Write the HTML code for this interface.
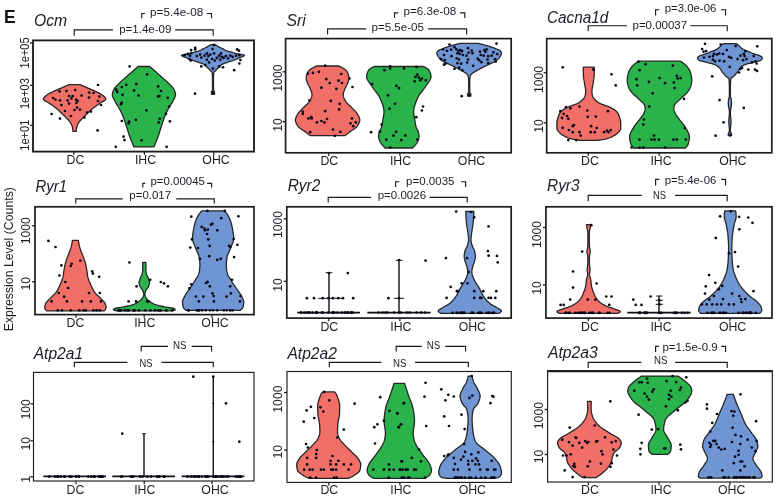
<!DOCTYPE html>
<html><head><meta charset="utf-8"><title>Figure E</title>
<style>
html,body{margin:0;padding:0;background:#fff;}
body{width:777px;height:500px;overflow:hidden;}
svg{display:block;}
svg text{font-family:"Liberation Sans",sans-serif;fill:#1b1b24;}
.t{font-style:italic;font-size:15px;}
.a{font-size:11.5px;}
.p{font-size:11.5px;}
.b{fill:none;stroke:#1a1a1a;stroke-width:1.15;}
.box{fill:none;stroke:#1c1c20;stroke-width:1.5;}
circle{fill:#080818;}
</style></head><body>
<svg width="777" height="500" viewBox="0 0 777 500">
<rect width="777" height="500" fill="#fff"/>
<text x="4" y="22.8" style="font-weight:bold;font-size:17.5px;fill:#111">E</text>
<text class="a" transform="translate(12.6 259.2) rotate(-90)" text-anchor="middle" style="font-size:12.3px">Expression Level (Counts)</text>
<path d="M69.10 84.70 L67.56 85.37 L66.01 86.03 L64.46 86.70 L62.92 87.36 L61.36 88.03 L59.76 88.69 L58.17 89.36 L56.60 90.03 L55.09 90.69 L53.67 91.36 L52.26 92.02 L50.86 92.69 L49.53 93.35 L48.34 94.02 L47.35 94.69 L46.49 95.35 L45.64 96.02 L44.84 96.68 L44.16 97.35 L43.67 98.01 L43.42 98.68 L43.52 99.35 L44.07 100.01 L44.96 100.68 L46.07 101.34 L47.26 102.01 L48.41 102.67 L49.39 103.34 L50.33 104.01 L51.29 104.67 L52.25 105.34 L53.21 106.00 L54.15 106.67 L55.05 107.33 L55.90 108.00 L56.70 108.67 L57.47 109.33 L58.22 110.00 L58.94 110.66 L59.65 111.33 L60.36 111.99 L61.05 112.66 L61.75 113.33 L62.44 113.99 L63.12 114.66 L63.79 115.32 L64.45 115.99 L65.10 116.65 L65.73 117.32 L66.37 117.99 L67.03 118.65 L67.69 119.32 L68.35 119.98 L68.97 120.65 L69.54 121.31 L70.03 121.98 L70.44 122.65 L70.82 123.31 L71.18 123.98 L71.52 124.64 L71.81 125.31 L72.07 125.97 L72.27 126.64 L72.42 127.31 L72.54 127.97 L72.66 128.64 L72.75 129.30 L72.83 129.97 L72.88 130.63 L72.90 131.30 L76.30 131.30 L76.32 130.63 L76.37 129.97 L76.45 129.30 L76.54 128.64 L76.66 127.97 L76.78 127.31 L76.93 126.64 L77.13 125.97 L77.39 125.31 L77.68 124.64 L78.02 123.98 L78.38 123.31 L78.76 122.65 L79.17 121.98 L79.66 121.31 L80.23 120.65 L80.85 119.98 L81.51 119.32 L82.17 118.65 L82.83 117.99 L83.47 117.32 L84.10 116.65 L84.75 115.99 L85.41 115.32 L86.08 114.66 L86.76 113.99 L87.45 113.33 L88.15 112.66 L88.84 111.99 L89.55 111.33 L90.26 110.66 L90.98 110.00 L91.73 109.33 L92.50 108.67 L93.30 108.00 L94.15 107.33 L95.05 106.67 L95.99 106.00 L96.95 105.34 L97.91 104.67 L98.87 104.01 L99.81 103.34 L100.79 102.67 L101.94 102.01 L103.13 101.34 L104.24 100.68 L105.13 100.01 L105.68 99.35 L105.78 98.68 L105.53 98.01 L105.04 97.35 L104.36 96.68 L103.56 96.02 L102.71 95.35 L101.85 94.69 L100.86 94.02 L99.67 93.35 L98.34 92.69 L96.94 92.02 L95.53 91.36 L94.11 90.69 L92.60 90.03 L91.03 89.36 L89.44 88.69 L87.84 88.03 L86.28 87.36 L84.74 86.70 L83.19 86.03 L81.64 85.37 L80.10 84.70Z" fill="#F26F68" stroke="#262626" stroke-width="1.3" stroke-linejoin="round"/>
<path d="M138.10 66.50 L137.33 67.16 L136.57 67.83 L135.80 68.49 L135.04 69.16 L134.28 69.82 L133.53 70.49 L132.77 71.15 L132.01 71.82 L131.26 72.48 L130.51 73.14 L129.76 73.81 L129.02 74.47 L128.27 75.14 L127.51 75.80 L126.75 76.47 L125.99 77.13 L125.23 77.80 L124.47 78.46 L123.71 79.12 L122.96 79.79 L122.22 80.45 L121.49 81.12 L120.78 81.78 L120.07 82.45 L119.39 83.11 L118.72 83.78 L118.06 84.44 L117.37 85.10 L116.68 85.77 L116.02 86.43 L115.40 87.10 L114.85 87.76 L114.40 88.43 L114.06 89.09 L113.75 89.76 L113.45 90.42 L113.17 91.09 L112.91 91.75 L112.69 92.41 L112.51 93.08 L112.38 93.74 L112.31 94.41 L112.31 95.07 L112.40 95.74 L112.57 96.40 L112.81 97.07 L113.11 97.73 L113.44 98.39 L113.79 99.06 L114.15 99.72 L114.50 100.39 L114.82 101.05 L115.17 101.72 L115.54 102.38 L115.94 103.05 L116.35 103.71 L116.77 104.37 L117.20 105.04 L117.62 105.70 L118.04 106.37 L118.45 107.03 L118.83 107.70 L119.20 108.36 L119.56 109.03 L119.92 109.69 L120.27 110.35 L120.62 111.02 L120.96 111.68 L121.30 112.35 L121.62 113.01 L121.93 113.68 L122.23 114.34 L122.52 115.01 L122.79 115.67 L123.05 116.33 L123.31 117.00 L123.56 117.66 L123.80 118.33 L124.03 118.99 L124.26 119.66 L124.48 120.32 L124.70 120.99 L124.92 121.65 L125.13 122.31 L125.34 122.98 L125.56 123.64 L125.77 124.31 L125.98 124.97 L126.19 125.64 L126.41 126.30 L126.62 126.97 L126.84 127.63 L127.06 128.30 L127.27 128.96 L127.48 129.62 L127.68 130.29 L127.89 130.95 L128.10 131.62 L128.30 132.28 L128.51 132.95 L128.72 133.61 L128.94 134.28 L129.16 134.94 L129.38 135.60 L129.61 136.27 L129.85 136.93 L130.09 137.60 L130.35 138.26 L130.61 138.93 L130.88 139.59 L131.15 140.26 L131.42 140.92 L131.70 141.58 L131.97 142.25 L132.25 142.91 L132.53 143.58 L132.80 144.24 L133.07 144.91 L133.35 145.57 L133.62 146.24 L133.90 146.90 L153.90 146.90 L154.18 146.24 L154.45 145.57 L154.73 144.91 L155.00 144.24 L155.27 143.58 L155.55 142.91 L155.83 142.25 L156.10 141.58 L156.38 140.92 L156.65 140.26 L156.92 139.59 L157.19 138.93 L157.45 138.26 L157.71 137.60 L157.95 136.93 L158.19 136.27 L158.42 135.60 L158.64 134.94 L158.86 134.28 L159.08 133.61 L159.29 132.95 L159.50 132.28 L159.70 131.62 L159.91 130.95 L160.12 130.29 L160.32 129.62 L160.53 128.96 L160.74 128.30 L160.96 127.63 L161.18 126.97 L161.39 126.30 L161.61 125.64 L161.82 124.97 L162.03 124.31 L162.24 123.64 L162.46 122.98 L162.67 122.31 L162.88 121.65 L163.10 120.99 L163.32 120.32 L163.54 119.66 L163.77 118.99 L164.00 118.33 L164.24 117.66 L164.49 117.00 L164.75 116.33 L165.01 115.67 L165.28 115.01 L165.57 114.34 L165.87 113.68 L166.18 113.01 L166.50 112.35 L166.84 111.68 L167.18 111.02 L167.53 110.35 L167.88 109.69 L168.24 109.03 L168.60 108.36 L168.97 107.70 L169.35 107.03 L169.76 106.37 L170.18 105.70 L170.60 105.04 L171.03 104.37 L171.45 103.71 L171.86 103.05 L172.26 102.38 L172.63 101.72 L172.98 101.05 L173.30 100.39 L173.65 99.72 L174.01 99.06 L174.36 98.39 L174.69 97.73 L174.99 97.07 L175.23 96.40 L175.40 95.74 L175.49 95.07 L175.49 94.41 L175.42 93.74 L175.29 93.08 L175.11 92.41 L174.89 91.75 L174.63 91.09 L174.35 90.42 L174.05 89.76 L173.74 89.09 L173.40 88.43 L172.95 87.76 L172.40 87.10 L171.78 86.43 L171.12 85.77 L170.43 85.10 L169.74 84.44 L169.08 83.78 L168.41 83.11 L167.73 82.45 L167.02 81.78 L166.31 81.12 L165.58 80.45 L164.84 79.79 L164.09 79.12 L163.33 78.46 L162.57 77.80 L161.81 77.13 L161.05 76.47 L160.29 75.80 L159.53 75.14 L158.78 74.47 L158.04 73.81 L157.29 73.14 L156.54 72.48 L155.79 71.82 L155.03 71.15 L154.27 70.49 L153.52 69.82 L152.76 69.16 L152.00 68.49 L151.23 67.83 L150.47 67.16 L149.70 66.50Z" fill="#2AB34B" stroke="#262626" stroke-width="1.3" stroke-linejoin="round"/>
<path d="M211.00 44.70 L209.80 45.36 L208.62 46.02 L207.46 46.68 L206.30 47.35 L204.89 48.01 L203.38 48.67 L202.14 49.33 L201.05 49.99 L199.72 50.65 L197.65 51.31 L195.19 51.97 L193.01 52.64 L190.61 53.30 L187.27 53.96 L183.67 54.62 L181.41 55.28 L182.08 55.94 L183.43 56.60 L185.20 57.27 L186.76 57.93 L188.31 58.59 L189.91 59.25 L191.52 59.91 L193.21 60.57 L195.12 61.23 L197.35 61.89 L199.32 62.56 L201.21 63.22 L202.92 63.88 L204.29 64.54 L205.20 65.20 L205.84 65.86 L206.43 66.52 L207.09 67.19 L207.75 67.85 L208.41 68.51 L209.05 69.17 L209.67 69.83 L210.30 70.49 L211.02 71.15 L211.79 71.81 L212.20 72.48 L212.26 73.14 L212.31 73.80 L212.35 74.46 L212.39 75.12 L212.42 75.78 L212.44 76.44 L212.46 77.11 L212.48 77.77 L212.49 78.43 L212.50 79.09 L212.50 79.75 L212.50 80.41 L212.50 81.07 L212.50 81.73 L212.50 82.40 L212.50 83.06 L212.50 83.72 L212.50 84.38 L212.50 85.04 L212.50 85.70 L212.50 86.36 L212.50 87.03 L212.50 87.69 L212.50 88.35 L212.50 89.01 L212.50 89.67 L212.50 90.33 L212.50 90.99 L211.50 91.65 L211.50 92.32 L211.50 92.98 L211.50 93.64 L211.50 94.30 L214.50 94.30 L214.50 93.64 L214.50 92.98 L214.50 92.32 L214.50 91.65 L213.50 90.99 L213.50 90.33 L213.50 89.67 L213.50 89.01 L213.50 88.35 L213.50 87.69 L213.50 87.03 L213.50 86.36 L213.50 85.70 L213.50 85.04 L213.50 84.38 L213.50 83.72 L213.50 83.06 L213.50 82.40 L213.50 81.73 L213.50 81.07 L213.50 80.41 L213.50 79.75 L213.50 79.09 L213.51 78.43 L213.52 77.77 L213.54 77.11 L213.56 76.44 L213.58 75.78 L213.61 75.12 L213.65 74.46 L213.69 73.80 L213.74 73.14 L213.80 72.48 L214.21 71.81 L214.98 71.15 L215.70 70.49 L216.33 69.83 L216.95 69.17 L217.59 68.51 L218.25 67.85 L218.91 67.19 L219.57 66.52 L220.16 65.86 L220.80 65.20 L221.71 64.54 L223.08 63.88 L224.79 63.22 L226.68 62.56 L228.65 61.89 L230.88 61.23 L232.79 60.57 L234.48 59.91 L236.09 59.25 L237.69 58.59 L239.24 57.93 L240.80 57.27 L242.57 56.60 L243.92 55.94 L244.59 55.28 L242.33 54.62 L238.73 53.96 L235.39 53.30 L232.99 52.64 L230.81 51.97 L228.35 51.31 L226.28 50.65 L224.95 49.99 L223.86 49.33 L222.62 48.67 L221.11 48.01 L219.70 47.35 L218.54 46.68 L217.38 46.02 L216.20 45.36 L215.00 44.70Z" fill="#7095D3" stroke="#262626" stroke-width="1.3" stroke-linejoin="round"/>
<path d="M316.30 66.00 L315.02 66.66 L313.78 67.33 L312.61 67.99 L311.52 68.65 L310.53 69.31 L309.65 69.98 L308.92 70.64 L308.33 71.30 L307.92 71.97 L307.61 72.63 L307.32 73.29 L307.06 73.95 L306.82 74.62 L306.61 75.28 L306.44 75.94 L306.32 76.61 L306.23 77.27 L306.20 77.93 L306.23 78.59 L306.32 79.26 L306.46 79.92 L306.65 80.58 L306.87 81.25 L307.11 81.91 L307.36 82.57 L307.62 83.23 L307.86 83.90 L308.12 84.56 L308.42 85.22 L308.76 85.89 L309.12 86.55 L309.49 87.21 L309.85 87.87 L310.19 88.54 L310.50 89.20 L310.75 89.86 L310.98 90.53 L311.20 91.19 L311.43 91.85 L311.63 92.51 L311.80 93.18 L311.93 93.84 L311.99 94.50 L311.99 95.17 L311.90 95.83 L311.75 96.49 L311.54 97.15 L311.28 97.82 L310.99 98.48 L310.66 99.14 L310.32 99.81 L309.97 100.47 L309.62 101.13 L309.18 101.79 L308.65 102.46 L308.07 103.12 L307.43 103.78 L306.75 104.45 L306.05 105.11 L305.34 105.77 L304.64 106.43 L303.96 107.10 L303.32 107.76 L302.71 108.42 L302.07 109.09 L301.42 109.75 L300.76 110.41 L300.11 111.07 L299.49 111.74 L298.92 112.40 L298.40 113.06 L297.96 113.73 L297.58 114.39 L297.21 115.05 L296.84 115.71 L296.49 116.38 L296.17 117.04 L295.89 117.70 L295.66 118.37 L295.50 119.03 L295.41 119.69 L295.41 120.35 L295.50 121.02 L295.65 121.68 L295.87 122.34 L296.14 123.01 L296.46 123.67 L296.81 124.33 L297.19 124.99 L297.59 125.66 L298.02 126.32 L298.60 126.98 L299.34 127.65 L300.20 128.31 L301.14 128.97 L302.13 129.63 L303.15 130.30 L304.14 130.96 L305.09 131.62 L305.97 132.29 L306.84 132.95 L307.70 133.61 L308.57 134.27 L309.43 134.94 L310.30 135.60 L344.90 135.60 L345.77 134.94 L346.63 134.27 L347.50 133.61 L348.36 132.95 L349.23 132.29 L350.11 131.62 L351.06 130.96 L352.05 130.30 L353.07 129.63 L354.06 128.97 L355.00 128.31 L355.86 127.65 L356.60 126.98 L357.18 126.32 L357.61 125.66 L358.01 124.99 L358.39 124.33 L358.74 123.67 L359.06 123.01 L359.33 122.34 L359.55 121.68 L359.70 121.02 L359.79 120.35 L359.79 119.69 L359.70 119.03 L359.54 118.37 L359.31 117.70 L359.03 117.04 L358.71 116.38 L358.36 115.71 L357.99 115.05 L357.62 114.39 L357.24 113.73 L356.80 113.06 L356.28 112.40 L355.71 111.74 L355.09 111.07 L354.44 110.41 L353.78 109.75 L353.13 109.09 L352.49 108.42 L351.88 107.76 L351.24 107.10 L350.56 106.43 L349.86 105.77 L349.15 105.11 L348.45 104.45 L347.77 103.78 L347.13 103.12 L346.55 102.46 L346.02 101.79 L345.58 101.13 L345.23 100.47 L344.88 99.81 L344.54 99.14 L344.21 98.48 L343.92 97.82 L343.66 97.15 L343.45 96.49 L343.30 95.83 L343.21 95.17 L343.21 94.50 L343.27 93.84 L343.40 93.18 L343.57 92.51 L343.77 91.85 L344.00 91.19 L344.22 90.53 L344.45 89.86 L344.70 89.20 L345.01 88.54 L345.35 87.87 L345.71 87.21 L346.08 86.55 L346.44 85.89 L346.78 85.22 L347.08 84.56 L347.34 83.90 L347.58 83.23 L347.84 82.57 L348.09 81.91 L348.33 81.25 L348.55 80.58 L348.74 79.92 L348.88 79.26 L348.97 78.59 L349.00 77.93 L348.97 77.27 L348.88 76.61 L348.76 75.94 L348.59 75.28 L348.38 74.62 L348.14 73.95 L347.88 73.29 L347.59 72.63 L347.28 71.97 L346.87 71.30 L346.28 70.64 L345.55 69.98 L344.67 69.31 L343.68 68.65 L342.59 67.99 L341.42 67.33 L340.18 66.66 L338.90 66.00Z" fill="#F26F68" stroke="#262626" stroke-width="1.3" stroke-linejoin="round"/>
<path d="M374.40 66.50 L373.05 67.16 L371.74 67.83 L370.56 68.49 L369.59 69.15 L368.92 69.81 L368.53 70.48 L368.18 71.14 L367.86 71.80 L367.56 72.46 L367.30 73.13 L367.08 73.79 L366.90 74.45 L366.76 75.11 L366.66 75.78 L366.61 76.44 L366.61 77.10 L366.70 77.76 L366.87 78.43 L367.12 79.09 L367.43 79.75 L367.80 80.41 L368.21 81.08 L368.66 81.74 L369.13 82.40 L369.62 83.07 L370.12 83.73 L370.62 84.39 L371.10 85.05 L371.56 85.72 L371.99 86.38 L372.41 87.04 L372.86 87.70 L373.33 88.37 L373.81 89.03 L374.32 89.69 L374.83 90.35 L375.34 91.02 L375.86 91.68 L376.38 92.34 L376.88 93.00 L377.38 93.67 L377.86 94.33 L378.32 94.99 L378.75 95.65 L379.16 96.32 L379.53 96.98 L379.87 97.64 L380.16 98.30 L380.43 98.97 L380.69 99.63 L380.96 100.29 L381.23 100.96 L381.49 101.62 L381.74 102.28 L382.00 102.94 L382.24 103.61 L382.47 104.27 L382.69 104.93 L382.90 105.59 L383.10 106.26 L383.28 106.92 L383.45 107.58 L383.59 108.24 L383.72 108.91 L383.82 109.57 L383.90 110.23 L383.96 110.89 L383.99 111.56 L384.00 112.22 L383.97 112.88 L383.92 113.54 L383.85 114.21 L383.76 114.87 L383.65 115.53 L383.53 116.20 L383.40 116.86 L383.27 117.52 L383.14 118.18 L383.01 118.85 L382.88 119.51 L382.77 120.17 L382.67 120.83 L382.57 121.50 L382.47 122.16 L382.37 122.82 L382.26 123.48 L382.15 124.15 L382.04 124.81 L381.91 125.47 L381.76 126.13 L381.61 126.80 L381.42 127.46 L381.14 128.12 L380.79 128.78 L380.40 129.45 L380.00 130.11 L379.65 130.77 L379.36 131.43 L379.18 132.10 L379.05 132.76 L378.93 133.42 L378.83 134.09 L378.74 134.75 L378.67 135.41 L378.62 136.07 L378.60 136.74 L378.63 137.40 L378.74 138.06 L378.90 138.72 L379.11 139.39 L379.36 140.05 L379.63 140.71 L379.91 141.37 L380.20 142.04 L380.58 142.70 L381.03 143.36 L381.53 144.02 L382.05 144.69 L382.59 145.35 L383.17 146.01 L383.81 146.67 L384.49 147.34 L385.20 148.00 L412.40 148.00 L413.11 147.34 L413.79 146.67 L414.43 146.01 L415.01 145.35 L415.55 144.69 L416.07 144.02 L416.57 143.36 L417.02 142.70 L417.40 142.04 L417.69 141.37 L417.97 140.71 L418.24 140.05 L418.49 139.39 L418.70 138.72 L418.86 138.06 L418.97 137.40 L419.00 136.74 L418.98 136.07 L418.93 135.41 L418.86 134.75 L418.77 134.09 L418.67 133.42 L418.55 132.76 L418.42 132.10 L418.24 131.43 L417.95 130.77 L417.60 130.11 L417.20 129.45 L416.81 128.78 L416.46 128.12 L416.18 127.46 L415.99 126.80 L415.84 126.13 L415.69 125.47 L415.56 124.81 L415.45 124.15 L415.34 123.48 L415.23 122.82 L415.13 122.16 L415.03 121.50 L414.93 120.83 L414.83 120.17 L414.72 119.51 L414.59 118.85 L414.46 118.18 L414.33 117.52 L414.20 116.86 L414.07 116.20 L413.95 115.53 L413.84 114.87 L413.75 114.21 L413.68 113.54 L413.63 112.88 L413.60 112.22 L413.61 111.56 L413.64 110.89 L413.70 110.23 L413.78 109.57 L413.88 108.91 L414.01 108.24 L414.15 107.58 L414.32 106.92 L414.50 106.26 L414.70 105.59 L414.91 104.93 L415.13 104.27 L415.36 103.61 L415.60 102.94 L415.86 102.28 L416.11 101.62 L416.37 100.96 L416.64 100.29 L416.91 99.63 L417.17 98.97 L417.44 98.30 L417.73 97.64 L418.07 96.98 L418.44 96.32 L418.85 95.65 L419.28 94.99 L419.74 94.33 L420.22 93.67 L420.72 93.00 L421.22 92.34 L421.74 91.68 L422.26 91.02 L422.77 90.35 L423.28 89.69 L423.79 89.03 L424.27 88.37 L424.74 87.70 L425.19 87.04 L425.61 86.38 L426.04 85.72 L426.50 85.05 L426.98 84.39 L427.48 83.73 L427.98 83.07 L428.47 82.40 L428.94 81.74 L429.39 81.08 L429.80 80.41 L430.17 79.75 L430.48 79.09 L430.73 78.43 L430.90 77.76 L430.99 77.10 L430.99 76.44 L430.94 75.78 L430.84 75.11 L430.70 74.45 L430.52 73.79 L430.30 73.13 L430.04 72.46 L429.74 71.80 L429.42 71.14 L429.07 70.48 L428.68 69.81 L428.01 69.15 L427.04 68.49 L425.86 67.83 L424.55 67.16 L423.20 66.50Z" fill="#2AB34B" stroke="#262626" stroke-width="1.3" stroke-linejoin="round"/>
<path d="M460.60 43.30 L457.77 43.96 L455.11 44.62 L452.64 45.28 L450.38 45.95 L448.31 46.61 L446.40 47.27 L444.63 47.93 L442.97 48.59 L441.32 49.25 L439.71 49.91 L438.48 50.57 L437.76 51.23 L437.20 51.90 L436.91 52.56 L436.93 53.22 L437.05 53.88 L437.21 54.54 L437.45 55.20 L437.81 55.86 L438.22 56.52 L438.68 57.19 L439.21 57.85 L439.81 58.51 L440.48 59.17 L441.22 59.83 L442.03 60.49 L442.92 61.15 L444.02 61.81 L445.34 62.48 L446.79 63.14 L448.28 63.80 L449.71 64.46 L451.04 65.12 L452.37 65.78 L453.69 66.44 L455.00 67.11 L456.29 67.77 L457.56 68.43 L458.83 69.09 L460.12 69.75 L461.37 70.41 L462.55 71.07 L463.60 71.73 L464.59 72.40 L465.58 73.06 L466.50 73.72 L467.24 74.38 L467.73 75.04 L467.97 75.70 L468.18 76.36 L468.35 77.02 L468.48 77.69 L468.56 78.35 L468.60 79.01 L468.61 79.67 L468.62 80.33 L468.63 80.99 L468.64 81.65 L468.65 82.31 L468.65 82.97 L468.66 83.64 L468.67 84.30 L468.67 84.96 L468.68 85.62 L468.68 86.28 L468.69 86.94 L468.69 87.60 L468.69 88.27 L468.69 88.93 L468.70 89.59 L468.70 90.25 L468.70 90.91 L468.70 91.57 L468.70 92.23 L468.70 92.89 L467.60 93.56 L467.60 94.22 L467.60 94.88 L467.60 95.54 L467.60 96.20 L470.80 96.20 L470.80 95.54 L470.80 94.88 L470.80 94.22 L470.80 93.56 L469.70 92.89 L469.70 92.23 L469.70 91.57 L469.70 90.91 L469.70 90.25 L469.70 89.59 L469.71 88.93 L469.71 88.27 L469.71 87.60 L469.71 86.94 L469.72 86.28 L469.72 85.62 L469.73 84.96 L469.73 84.30 L469.74 83.64 L469.75 82.97 L469.75 82.31 L469.76 81.65 L469.77 80.99 L469.78 80.33 L469.79 79.67 L469.80 79.01 L469.84 78.35 L469.92 77.69 L470.05 77.02 L470.22 76.36 L470.43 75.70 L470.67 75.04 L471.16 74.38 L471.90 73.72 L472.82 73.06 L473.81 72.40 L474.80 71.73 L475.85 71.07 L477.03 70.41 L478.28 69.75 L479.57 69.09 L480.84 68.43 L482.11 67.77 L483.40 67.11 L484.71 66.44 L486.03 65.78 L487.36 65.12 L488.69 64.46 L490.12 63.80 L491.61 63.14 L493.06 62.48 L494.38 61.81 L495.48 61.15 L496.37 60.49 L497.18 59.83 L497.92 59.17 L498.59 58.51 L499.19 57.85 L499.72 57.19 L500.18 56.52 L500.59 55.86 L500.95 55.20 L501.19 54.54 L501.35 53.88 L501.47 53.22 L501.49 52.56 L501.20 51.90 L500.64 51.23 L499.92 50.57 L498.69 49.91 L497.08 49.25 L495.43 48.59 L493.77 47.93 L492.00 47.27 L490.09 46.61 L488.02 45.95 L485.76 45.28 L483.29 44.62 L480.63 43.96 L477.80 43.30Z" fill="#7095D3" stroke="#262626" stroke-width="1.3" stroke-linejoin="round"/>
<path d="M583.30 67.20 L583.30 67.87 L583.30 68.53 L583.31 69.20 L583.31 69.86 L583.32 70.53 L583.33 71.19 L583.34 71.86 L583.35 72.52 L583.36 73.19 L583.38 73.85 L583.39 74.52 L583.41 75.19 L583.44 75.85 L583.48 76.52 L583.55 77.18 L583.63 77.85 L583.72 78.51 L583.81 79.18 L583.92 79.84 L584.03 80.51 L584.14 81.17 L584.26 81.84 L584.37 82.51 L584.48 83.17 L584.58 83.84 L584.68 84.50 L584.79 85.17 L584.92 85.83 L585.06 86.50 L585.19 87.16 L585.32 87.83 L585.44 88.49 L585.54 89.16 L585.63 89.83 L585.68 90.49 L585.70 91.16 L585.68 91.82 L585.64 92.49 L585.56 93.15 L585.46 93.82 L585.34 94.48 L585.20 95.15 L585.04 95.81 L584.85 96.48 L584.53 97.15 L584.12 97.81 L583.62 98.48 L583.07 99.14 L582.47 99.81 L581.84 100.47 L581.07 101.14 L580.19 101.80 L579.20 102.47 L578.11 103.13 L576.81 103.80 L575.17 104.47 L573.33 105.13 L571.40 105.80 L569.52 106.46 L567.80 107.13 L566.37 107.79 L565.25 108.46 L564.19 109.12 L563.21 109.79 L562.30 110.45 L561.50 111.12 L560.80 111.79 L560.24 112.45 L559.81 113.12 L559.44 113.78 L559.12 114.45 L558.84 115.11 L558.58 115.78 L558.36 116.44 L558.15 117.11 L557.95 117.77 L557.74 118.44 L557.53 119.11 L557.34 119.77 L557.16 120.44 L557.02 121.10 L556.93 121.77 L556.90 122.43 L556.90 123.10 L556.90 123.76 L556.90 124.43 L556.90 125.09 L556.90 125.76 L556.90 126.43 L556.90 127.09 L556.90 127.76 L556.90 128.42 L556.99 129.09 L557.24 129.75 L557.62 130.42 L558.10 131.08 L558.66 131.75 L559.26 132.41 L559.89 133.08 L560.61 133.75 L561.56 134.41 L562.66 135.08 L563.84 135.74 L565.02 136.41 L566.25 137.07 L567.72 137.74 L569.62 138.40 L572.14 139.07 L575.33 139.73 L579.80 140.40 L597.80 140.40 L602.27 139.73 L605.46 139.07 L607.98 138.40 L609.88 137.74 L611.35 137.07 L612.58 136.41 L613.76 135.74 L614.94 135.08 L616.04 134.41 L616.99 133.75 L617.71 133.08 L618.34 132.41 L618.94 131.75 L619.50 131.08 L619.98 130.42 L620.36 129.75 L620.61 129.09 L620.70 128.42 L620.70 127.76 L620.70 127.09 L620.70 126.43 L620.70 125.76 L620.70 125.09 L620.70 124.43 L620.70 123.76 L620.70 123.10 L620.70 122.43 L620.67 121.77 L620.58 121.10 L620.44 120.44 L620.26 119.77 L620.07 119.11 L619.86 118.44 L619.65 117.77 L619.45 117.11 L619.24 116.44 L619.02 115.78 L618.76 115.11 L618.48 114.45 L618.16 113.78 L617.79 113.12 L617.36 112.45 L616.80 111.79 L616.10 111.12 L615.30 110.45 L614.39 109.79 L613.41 109.12 L612.35 108.46 L611.23 107.79 L609.80 107.13 L608.08 106.46 L606.20 105.80 L604.27 105.13 L602.43 104.47 L600.79 103.80 L599.49 103.13 L598.40 102.47 L597.41 101.80 L596.53 101.14 L595.76 100.47 L595.13 99.81 L594.53 99.14 L593.98 98.48 L593.48 97.81 L593.07 97.15 L592.75 96.48 L592.56 95.81 L592.40 95.15 L592.26 94.48 L592.14 93.82 L592.04 93.15 L591.96 92.49 L591.92 91.82 L591.90 91.16 L591.92 90.49 L591.97 89.83 L592.06 89.16 L592.16 88.49 L592.28 87.83 L592.41 87.16 L592.54 86.50 L592.68 85.83 L592.81 85.17 L592.92 84.50 L593.02 83.84 L593.12 83.17 L593.23 82.51 L593.34 81.84 L593.46 81.17 L593.57 80.51 L593.68 79.84 L593.79 79.18 L593.88 78.51 L593.97 77.85 L594.05 77.18 L594.12 76.52 L594.16 75.85 L594.19 75.19 L594.21 74.52 L594.22 73.85 L594.24 73.19 L594.25 72.52 L594.26 71.86 L594.27 71.19 L594.28 70.53 L594.29 69.86 L594.29 69.20 L594.30 68.53 L594.30 67.87 L594.30 67.20Z" fill="#F26F68" stroke="#262626" stroke-width="1.3" stroke-linejoin="round"/>
<path d="M638.60 61.20 L637.59 61.86 L636.61 62.53 L635.68 63.19 L634.81 63.85 L634.01 64.51 L633.28 65.18 L632.64 65.84 L632.08 66.50 L631.53 67.16 L631.01 67.83 L630.53 68.49 L630.07 69.15 L629.67 69.81 L629.31 70.48 L629.00 71.14 L628.76 71.80 L628.57 72.46 L628.38 73.13 L628.21 73.79 L628.04 74.45 L627.88 75.11 L627.73 75.78 L627.60 76.44 L627.49 77.10 L627.39 77.76 L627.31 78.43 L627.25 79.09 L627.21 79.75 L627.20 80.42 L627.22 81.08 L627.28 81.74 L627.37 82.40 L627.49 83.07 L627.63 83.73 L627.78 84.39 L627.95 85.05 L628.12 85.72 L628.31 86.38 L628.54 87.04 L628.81 87.70 L629.13 88.37 L629.48 89.03 L629.85 89.69 L630.26 90.35 L630.68 91.02 L631.14 91.68 L631.67 92.34 L632.27 93.00 L632.92 93.67 L633.61 94.33 L634.33 94.99 L635.07 95.65 L635.81 96.32 L636.54 96.98 L637.24 97.64 L637.91 98.31 L638.57 98.97 L639.29 99.63 L640.05 100.29 L640.82 100.96 L641.58 101.62 L642.31 102.28 L642.99 102.94 L643.58 103.61 L644.08 104.27 L644.46 104.93 L644.70 105.59 L644.85 106.26 L644.98 106.92 L645.09 107.58 L645.17 108.24 L645.20 108.91 L645.16 109.57 L645.01 110.23 L644.80 110.89 L644.53 111.56 L644.25 112.22 L643.97 112.88 L643.66 113.55 L643.30 114.21 L642.91 114.87 L642.47 115.53 L642.01 116.20 L641.54 116.86 L641.04 117.52 L640.54 118.18 L640.05 118.85 L639.55 119.51 L639.08 120.17 L638.58 120.83 L638.05 121.50 L637.51 122.16 L636.96 122.82 L636.41 123.48 L635.86 124.15 L635.33 124.81 L634.83 125.47 L634.36 126.13 L633.93 126.80 L633.55 127.46 L633.18 128.12 L632.79 128.78 L632.40 129.45 L632.01 130.11 L631.64 130.77 L631.28 131.44 L630.93 132.10 L630.62 132.76 L630.34 133.42 L630.09 134.09 L629.89 134.75 L629.74 135.41 L629.64 136.07 L629.60 136.74 L629.61 137.40 L629.65 138.06 L629.70 138.72 L629.78 139.39 L629.88 140.05 L630.00 140.71 L630.13 141.37 L630.28 142.04 L630.44 142.70 L630.62 143.36 L630.81 144.02 L631.07 144.69 L631.46 145.35 L631.94 146.01 L632.49 146.67 L633.09 147.34 L633.70 148.00 L685.30 148.00 L685.91 147.34 L686.51 146.67 L687.06 146.01 L687.54 145.35 L687.93 144.69 L688.19 144.02 L688.38 143.36 L688.56 142.70 L688.72 142.04 L688.87 141.37 L689.00 140.71 L689.12 140.05 L689.22 139.39 L689.30 138.72 L689.35 138.06 L689.39 137.40 L689.40 136.74 L689.36 136.07 L689.26 135.41 L689.11 134.75 L688.91 134.09 L688.66 133.42 L688.38 132.76 L688.07 132.10 L687.72 131.44 L687.36 130.77 L686.99 130.11 L686.60 129.45 L686.21 128.78 L685.82 128.12 L685.45 127.46 L685.07 126.80 L684.64 126.13 L684.17 125.47 L683.67 124.81 L683.14 124.15 L682.59 123.48 L682.04 122.82 L681.49 122.16 L680.95 121.50 L680.42 120.83 L679.92 120.17 L679.45 119.51 L678.95 118.85 L678.46 118.18 L677.96 117.52 L677.46 116.86 L676.99 116.20 L676.53 115.53 L676.09 114.87 L675.70 114.21 L675.34 113.55 L675.03 112.88 L674.75 112.22 L674.47 111.56 L674.20 110.89 L673.99 110.23 L673.84 109.57 L673.80 108.91 L673.83 108.24 L673.91 107.58 L674.02 106.92 L674.15 106.26 L674.30 105.59 L674.54 104.93 L674.92 104.27 L675.42 103.61 L676.01 102.94 L676.69 102.28 L677.42 101.62 L678.18 100.96 L678.95 100.29 L679.71 99.63 L680.43 98.97 L681.09 98.31 L681.76 97.64 L682.46 96.98 L683.19 96.32 L683.93 95.65 L684.67 94.99 L685.39 94.33 L686.08 93.67 L686.73 93.00 L687.33 92.34 L687.86 91.68 L688.32 91.02 L688.74 90.35 L689.15 89.69 L689.52 89.03 L689.87 88.37 L690.19 87.70 L690.46 87.04 L690.69 86.38 L690.88 85.72 L691.05 85.05 L691.22 84.39 L691.37 83.73 L691.51 83.07 L691.63 82.40 L691.72 81.74 L691.78 81.08 L691.80 80.42 L691.79 79.75 L691.75 79.09 L691.69 78.43 L691.61 77.76 L691.51 77.10 L691.40 76.44 L691.27 75.78 L691.12 75.11 L690.96 74.45 L690.79 73.79 L690.62 73.13 L690.43 72.46 L690.24 71.80 L690.00 71.14 L689.69 70.48 L689.33 69.81 L688.93 69.15 L688.47 68.49 L687.99 67.83 L687.47 67.16 L686.92 66.50 L686.36 65.84 L685.72 65.18 L684.99 64.51 L684.19 63.85 L683.32 63.19 L682.39 62.53 L681.41 61.86 L680.40 61.20Z" fill="#2AB34B" stroke="#262626" stroke-width="1.3" stroke-linejoin="round"/>
<path d="M723.50 43.70 L722.42 44.37 L721.50 45.03 L720.80 45.70 L720.22 46.36 L719.56 47.03 L718.79 47.70 L717.95 48.36 L717.01 49.03 L715.94 49.69 L714.64 50.36 L712.85 51.03 L711.08 51.69 L709.63 52.36 L708.18 53.02 L706.37 53.69 L704.06 54.36 L701.76 55.02 L700.00 55.69 L698.89 56.35 L697.97 57.02 L697.51 57.68 L697.56 58.35 L697.78 59.02 L698.23 59.68 L699.29 60.35 L701.34 61.01 L704.12 61.68 L706.73 62.35 L709.31 63.01 L711.87 63.68 L714.07 64.34 L715.62 65.01 L716.81 65.68 L717.82 66.34 L718.68 67.01 L719.40 67.67 L719.99 68.34 L720.46 69.01 L720.87 69.67 L721.24 70.34 L721.61 71.00 L722.03 71.67 L722.53 72.34 L723.06 73.00 L723.63 73.67 L724.22 74.33 L724.84 75.00 L725.47 75.67 L726.13 76.33 L726.97 77.00 L727.93 77.66 L728.71 78.33 L729.01 78.99 L729.06 79.66 L729.11 80.33 L729.16 80.99 L729.20 81.66 L729.23 82.32 L729.26 82.99 L729.29 83.66 L729.32 84.32 L729.34 84.99 L729.35 85.65 L729.37 86.32 L729.38 86.99 L729.39 87.65 L729.39 88.32 L729.40 88.98 L729.40 89.65 L729.40 90.32 L729.40 90.98 L729.40 91.65 L729.40 92.31 L729.40 92.98 L729.40 93.65 L729.40 94.31 L729.40 94.98 L729.40 95.64 L729.38 96.31 L729.23 96.98 L728.99 97.64 L728.76 98.31 L728.60 98.97 L728.53 99.64 L728.45 100.31 L728.39 100.97 L728.34 101.64 L728.31 102.30 L728.30 102.97 L728.31 103.63 L728.34 104.30 L728.39 104.97 L728.45 105.63 L728.52 106.30 L728.60 106.96 L728.72 107.63 L728.91 108.30 L729.11 108.96 L729.26 109.63 L729.31 110.29 L729.34 110.96 L729.36 111.63 L729.38 112.29 L729.39 112.96 L729.40 113.62 L729.40 114.29 L729.35 114.96 L729.28 115.62 L729.19 116.29 L729.11 116.95 L729.03 117.62 L728.98 118.29 L728.93 118.95 L728.89 119.62 L728.85 120.28 L728.82 120.95 L728.80 121.62 L728.80 122.28 L728.83 122.95 L728.87 123.61 L728.93 124.28 L729.00 124.94 L729.06 125.61 L729.13 126.28 L729.21 126.94 L729.30 127.61 L729.37 128.27 L729.40 128.94 L729.40 129.61 L729.38 130.27 L729.36 130.94 L729.33 131.60 L729.20 132.27 L728.61 132.94 L728.30 133.60 L728.30 134.27 L728.30 134.93 L728.30 135.60 L731.50 135.60 L731.50 134.93 L731.50 134.27 L731.50 133.60 L731.19 132.94 L730.60 132.27 L730.47 131.60 L730.44 130.94 L730.42 130.27 L730.40 129.61 L730.40 128.94 L730.43 128.27 L730.50 127.61 L730.59 126.94 L730.67 126.28 L730.74 125.61 L730.80 124.94 L730.87 124.28 L730.93 123.61 L730.97 122.95 L731.00 122.28 L731.00 121.62 L730.98 120.95 L730.95 120.28 L730.91 119.62 L730.87 118.95 L730.82 118.29 L730.77 117.62 L730.69 116.95 L730.61 116.29 L730.52 115.62 L730.45 114.96 L730.40 114.29 L730.40 113.62 L730.41 112.96 L730.42 112.29 L730.44 111.63 L730.46 110.96 L730.49 110.29 L730.54 109.63 L730.69 108.96 L730.89 108.30 L731.08 107.63 L731.20 106.96 L731.28 106.30 L731.35 105.63 L731.41 104.97 L731.46 104.30 L731.49 103.63 L731.50 102.97 L731.49 102.30 L731.46 101.64 L731.41 100.97 L731.35 100.31 L731.27 99.64 L731.20 98.97 L731.04 98.31 L730.81 97.64 L730.57 96.98 L730.42 96.31 L730.40 95.64 L730.40 94.98 L730.40 94.31 L730.40 93.65 L730.40 92.98 L730.40 92.31 L730.40 91.65 L730.40 90.98 L730.40 90.32 L730.40 89.65 L730.40 88.98 L730.41 88.32 L730.41 87.65 L730.42 86.99 L730.43 86.32 L730.45 85.65 L730.46 84.99 L730.48 84.32 L730.51 83.66 L730.54 82.99 L730.57 82.32 L730.60 81.66 L730.64 80.99 L730.69 80.33 L730.74 79.66 L730.79 78.99 L731.09 78.33 L731.87 77.66 L732.83 77.00 L733.67 76.33 L734.33 75.67 L734.96 75.00 L735.58 74.33 L736.17 73.67 L736.74 73.00 L737.27 72.34 L737.77 71.67 L738.19 71.00 L738.56 70.34 L738.93 69.67 L739.34 69.01 L739.81 68.34 L740.40 67.67 L741.12 67.01 L741.98 66.34 L742.99 65.68 L744.18 65.01 L745.73 64.34 L747.93 63.68 L750.49 63.01 L753.07 62.35 L755.68 61.68 L758.46 61.01 L760.51 60.35 L761.57 59.68 L762.02 59.02 L762.24 58.35 L762.29 57.68 L761.83 57.02 L760.91 56.35 L759.80 55.69 L758.04 55.02 L755.74 54.36 L753.43 53.69 L751.62 53.02 L750.17 52.36 L748.72 51.69 L746.95 51.03 L745.16 50.36 L743.86 49.69 L742.79 49.03 L741.85 48.36 L741.01 47.70 L740.24 47.03 L739.58 46.36 L739.00 45.70 L738.30 45.03 L737.38 44.37 L736.30 43.70Z" fill="#7095D3" stroke="#262626" stroke-width="1.3" stroke-linejoin="round"/>
<path d="M72.40 240.30 L72.32 240.97 L72.23 241.63 L72.13 242.30 L72.01 242.96 L71.89 243.63 L71.76 244.30 L71.62 244.96 L71.47 245.63 L71.32 246.29 L71.16 246.96 L70.98 247.63 L70.79 248.29 L70.57 248.96 L70.34 249.62 L70.09 250.29 L69.84 250.96 L69.58 251.62 L69.32 252.29 L69.06 252.95 L68.79 253.62 L68.54 254.29 L68.29 254.95 L68.05 255.62 L67.80 256.28 L67.54 256.95 L67.28 257.62 L67.02 258.28 L66.76 258.95 L66.51 259.62 L66.26 260.28 L66.04 260.95 L65.82 261.61 L65.63 262.28 L65.46 262.95 L65.30 263.61 L65.14 264.28 L64.99 264.94 L64.85 265.61 L64.72 266.28 L64.59 266.94 L64.46 267.61 L64.34 268.27 L64.22 268.94 L64.10 269.61 L63.99 270.27 L63.89 270.94 L63.79 271.60 L63.71 272.27 L63.62 272.94 L63.53 273.60 L63.44 274.27 L63.34 274.93 L63.23 275.60 L63.11 276.27 L62.97 276.93 L62.81 277.60 L62.62 278.26 L62.41 278.93 L62.19 279.60 L61.94 280.26 L61.68 280.93 L61.42 281.59 L61.14 282.26 L60.86 282.93 L60.57 283.59 L60.29 284.26 L60.00 284.92 L59.71 285.59 L59.41 286.26 L59.10 286.92 L58.78 287.59 L58.45 288.25 L58.10 288.92 L57.74 289.59 L57.36 290.25 L56.96 290.92 L56.54 291.58 L56.10 292.25 L55.62 292.92 L55.06 293.58 L54.44 294.25 L53.77 294.92 L53.08 295.58 L52.37 296.25 L51.67 296.91 L50.99 297.58 L50.34 298.25 L49.72 298.91 L49.05 299.58 L48.36 300.24 L47.68 300.91 L47.04 301.58 L46.47 302.24 L46.00 302.91 L45.65 303.57 L45.40 304.24 L45.16 304.91 L44.96 305.57 L44.81 306.24 L44.72 306.90 L44.71 307.57 L44.85 308.24 L45.13 308.90 L45.53 309.57 L46.02 310.23 L46.60 310.90 L104.20 310.90 L104.78 310.23 L105.27 309.57 L105.67 308.90 L105.95 308.24 L106.09 307.57 L106.08 306.90 L105.99 306.24 L105.84 305.57 L105.64 304.91 L105.40 304.24 L105.15 303.57 L104.80 302.91 L104.33 302.24 L103.76 301.58 L103.12 300.91 L102.44 300.24 L101.75 299.58 L101.08 298.91 L100.46 298.25 L99.81 297.58 L99.13 296.91 L98.43 296.25 L97.72 295.58 L97.03 294.92 L96.36 294.25 L95.74 293.58 L95.18 292.92 L94.70 292.25 L94.26 291.58 L93.84 290.92 L93.44 290.25 L93.06 289.59 L92.70 288.92 L92.35 288.25 L92.02 287.59 L91.70 286.92 L91.39 286.26 L91.09 285.59 L90.80 284.92 L90.51 284.26 L90.23 283.59 L89.94 282.93 L89.66 282.26 L89.38 281.59 L89.12 280.93 L88.86 280.26 L88.61 279.60 L88.39 278.93 L88.18 278.26 L87.99 277.60 L87.83 276.93 L87.69 276.27 L87.57 275.60 L87.46 274.93 L87.36 274.27 L87.27 273.60 L87.18 272.94 L87.09 272.27 L87.01 271.60 L86.91 270.94 L86.81 270.27 L86.70 269.61 L86.58 268.94 L86.46 268.27 L86.34 267.61 L86.21 266.94 L86.08 266.28 L85.95 265.61 L85.81 264.94 L85.66 264.28 L85.50 263.61 L85.34 262.95 L85.17 262.28 L84.98 261.61 L84.76 260.95 L84.54 260.28 L84.29 259.62 L84.04 258.95 L83.78 258.28 L83.52 257.62 L83.26 256.95 L83.00 256.28 L82.75 255.62 L82.51 254.95 L82.26 254.29 L82.01 253.62 L81.74 252.95 L81.48 252.29 L81.22 251.62 L80.96 250.96 L80.71 250.29 L80.46 249.62 L80.23 248.96 L80.01 248.29 L79.82 247.63 L79.64 246.96 L79.48 246.29 L79.33 245.63 L79.18 244.96 L79.04 244.30 L78.91 243.63 L78.79 242.96 L78.67 242.30 L78.57 241.63 L78.48 240.97 L78.40 240.30Z" fill="#F26F68" stroke="#262626" stroke-width="1.3" stroke-linejoin="round"/>
<path d="M142.70 262.40 L142.70 263.06 L142.70 263.73 L142.70 264.39 L142.70 265.06 L142.70 265.72 L142.70 266.39 L142.70 267.05 L142.70 267.72 L142.70 268.38 L142.70 269.04 L142.70 269.71 L142.69 270.37 L142.64 271.04 L142.56 271.70 L142.45 272.37 L142.31 273.03 L142.17 273.69 L142.00 274.36 L141.74 275.02 L141.42 275.69 L141.06 276.35 L140.71 277.02 L140.41 277.68 L140.19 278.35 L139.96 279.01 L139.73 279.67 L139.52 280.34 L139.34 281.00 L139.20 281.67 L139.12 282.33 L139.10 283.00 L139.17 283.66 L139.32 284.32 L139.52 284.99 L139.76 285.65 L140.02 286.32 L140.29 286.98 L140.65 287.65 L141.15 288.31 L141.70 288.98 L142.22 289.64 L142.62 290.30 L142.88 290.97 L143.12 291.63 L143.35 292.30 L143.54 292.96 L143.69 293.63 L143.78 294.29 L143.79 294.95 L143.65 295.62 L143.37 296.28 L143.01 296.95 L142.64 297.61 L142.19 298.28 L141.64 298.94 L141.01 299.61 L140.31 300.27 L139.54 300.93 L138.71 301.60 L137.78 302.26 L136.71 302.93 L135.47 303.59 L134.04 304.26 L132.22 304.92 L129.76 305.58 L126.87 306.25 L123.72 306.91 L119.26 307.58 L115.25 308.24 L113.89 308.91 L113.32 309.57 L114.00 310.24 L116.30 310.90 L172.30 310.90 L174.60 310.24 L175.28 309.57 L174.71 308.91 L173.35 308.24 L169.34 307.58 L164.88 306.91 L161.73 306.25 L158.84 305.58 L156.38 304.92 L154.56 304.26 L153.13 303.59 L151.89 302.93 L150.82 302.26 L149.89 301.60 L149.06 300.93 L148.29 300.27 L147.59 299.61 L146.96 298.94 L146.41 298.28 L145.96 297.61 L145.59 296.95 L145.23 296.28 L144.95 295.62 L144.81 294.95 L144.82 294.29 L144.91 293.63 L145.06 292.96 L145.25 292.30 L145.48 291.63 L145.72 290.97 L145.98 290.30 L146.38 289.64 L146.90 288.98 L147.45 288.31 L147.95 287.65 L148.31 286.98 L148.58 286.32 L148.84 285.65 L149.08 284.99 L149.28 284.32 L149.43 283.66 L149.50 283.00 L149.48 282.33 L149.40 281.67 L149.26 281.00 L149.08 280.34 L148.87 279.67 L148.64 279.01 L148.41 278.35 L148.19 277.68 L147.89 277.02 L147.54 276.35 L147.18 275.69 L146.86 275.02 L146.60 274.36 L146.43 273.69 L146.29 273.03 L146.15 272.37 L146.04 271.70 L145.96 271.04 L145.91 270.37 L145.90 269.71 L145.90 269.04 L145.90 268.38 L145.90 267.72 L145.90 267.05 L145.90 266.39 L145.90 265.72 L145.90 265.06 L145.90 264.39 L145.90 263.73 L145.90 263.06 L145.90 262.40Z" fill="#2AB34B" stroke="#262626" stroke-width="1.3" stroke-linejoin="round"/>
<path d="M201.70 210.80 L201.16 211.46 L200.64 212.13 L200.13 212.79 L199.63 213.46 L199.15 214.12 L198.69 214.78 L198.25 215.45 L197.84 216.11 L197.46 216.78 L197.10 217.44 L196.77 218.10 L196.47 218.77 L196.21 219.43 L195.97 220.10 L195.73 220.76 L195.51 221.42 L195.30 222.09 L195.10 222.75 L194.90 223.42 L194.72 224.08 L194.55 224.74 L194.39 225.41 L194.24 226.07 L194.09 226.74 L193.96 227.40 L193.83 228.06 L193.71 228.73 L193.60 229.39 L193.48 230.06 L193.37 230.72 L193.25 231.38 L193.14 232.05 L193.03 232.71 L192.93 233.38 L192.83 234.04 L192.75 234.70 L192.67 235.37 L192.61 236.03 L192.56 236.70 L192.52 237.36 L192.50 238.02 L192.51 238.69 L192.56 239.35 L192.66 240.02 L192.80 240.68 L192.98 241.34 L193.19 242.01 L193.43 242.67 L193.69 243.34 L193.96 244.00 L194.24 244.66 L194.53 245.33 L194.81 245.99 L195.09 246.66 L195.35 247.32 L195.59 247.98 L195.84 248.65 L196.10 249.31 L196.38 249.98 L196.67 250.64 L196.97 251.30 L197.27 251.97 L197.56 252.63 L197.85 253.30 L198.13 253.96 L198.38 254.62 L198.62 255.29 L198.83 255.95 L199.01 256.62 L199.15 257.28 L199.25 257.94 L199.35 258.61 L199.44 259.27 L199.53 259.94 L199.62 260.60 L199.69 261.26 L199.76 261.93 L199.81 262.59 L199.86 263.26 L199.89 263.92 L199.90 264.58 L199.90 265.25 L199.88 265.91 L199.85 266.58 L199.80 267.24 L199.74 267.90 L199.67 268.57 L199.60 269.23 L199.51 269.90 L199.42 270.56 L199.32 271.22 L199.22 271.89 L199.09 272.55 L198.92 273.22 L198.70 273.88 L198.44 274.54 L198.14 275.21 L197.81 275.87 L197.45 276.54 L197.07 277.20 L196.68 277.86 L196.27 278.53 L195.86 279.19 L195.45 279.86 L195.04 280.52 L194.64 281.18 L194.26 281.85 L193.86 282.51 L193.44 283.18 L193.00 283.84 L192.56 284.50 L192.10 285.17 L191.64 285.83 L191.18 286.50 L190.72 287.16 L190.26 287.82 L189.81 288.49 L189.36 289.15 L188.90 289.82 L188.42 290.48 L187.94 291.14 L187.46 291.81 L186.98 292.47 L186.52 293.14 L186.07 293.80 L185.65 294.46 L185.26 295.13 L184.90 295.79 L184.57 296.46 L184.23 297.12 L183.89 297.78 L183.55 298.45 L183.24 299.11 L182.96 299.78 L182.74 300.44 L182.58 301.10 L182.51 301.77 L182.51 302.43 L182.54 303.10 L182.59 303.76 L182.67 304.42 L182.77 305.09 L182.88 305.75 L183.02 306.42 L183.18 307.08 L183.52 307.74 L184.02 308.41 L184.64 309.07 L185.35 309.74 L186.10 310.40 L240.10 310.40 L240.85 309.74 L241.56 309.07 L242.18 308.41 L242.68 307.74 L243.02 307.08 L243.18 306.42 L243.32 305.75 L243.43 305.09 L243.53 304.42 L243.61 303.76 L243.66 303.10 L243.69 302.43 L243.69 301.77 L243.62 301.10 L243.46 300.44 L243.24 299.78 L242.96 299.11 L242.65 298.45 L242.31 297.78 L241.97 297.12 L241.63 296.46 L241.30 295.79 L240.94 295.13 L240.55 294.46 L240.13 293.80 L239.68 293.14 L239.22 292.47 L238.74 291.81 L238.26 291.14 L237.78 290.48 L237.30 289.82 L236.84 289.15 L236.39 288.49 L235.94 287.82 L235.48 287.16 L235.02 286.50 L234.56 285.83 L234.10 285.17 L233.64 284.50 L233.20 283.84 L232.76 283.18 L232.34 282.51 L231.94 281.85 L231.56 281.18 L231.16 280.52 L230.75 279.86 L230.34 279.19 L229.93 278.53 L229.52 277.86 L229.13 277.20 L228.75 276.54 L228.39 275.87 L228.06 275.21 L227.76 274.54 L227.50 273.88 L227.28 273.22 L227.11 272.55 L226.98 271.89 L226.88 271.22 L226.78 270.56 L226.69 269.90 L226.60 269.23 L226.53 268.57 L226.46 267.90 L226.40 267.24 L226.35 266.58 L226.32 265.91 L226.30 265.25 L226.30 264.58 L226.31 263.92 L226.34 263.26 L226.39 262.59 L226.44 261.93 L226.51 261.26 L226.58 260.60 L226.67 259.94 L226.76 259.27 L226.85 258.61 L226.95 257.94 L227.05 257.28 L227.19 256.62 L227.37 255.95 L227.58 255.29 L227.82 254.62 L228.07 253.96 L228.35 253.30 L228.64 252.63 L228.93 251.97 L229.23 251.30 L229.53 250.64 L229.82 249.98 L230.10 249.31 L230.36 248.65 L230.61 247.98 L230.85 247.32 L231.11 246.66 L231.39 245.99 L231.67 245.33 L231.96 244.66 L232.24 244.00 L232.51 243.34 L232.77 242.67 L233.01 242.01 L233.22 241.34 L233.40 240.68 L233.54 240.02 L233.64 239.35 L233.69 238.69 L233.70 238.02 L233.68 237.36 L233.64 236.70 L233.59 236.03 L233.53 235.37 L233.45 234.70 L233.37 234.04 L233.27 233.38 L233.17 232.71 L233.06 232.05 L232.95 231.38 L232.83 230.72 L232.72 230.06 L232.60 229.39 L232.49 228.73 L232.37 228.06 L232.24 227.40 L232.11 226.74 L231.96 226.07 L231.81 225.41 L231.65 224.74 L231.48 224.08 L231.30 223.42 L231.10 222.75 L230.90 222.09 L230.69 221.42 L230.47 220.76 L230.23 220.10 L229.99 219.43 L229.73 218.77 L229.43 218.10 L229.10 217.44 L228.74 216.78 L228.36 216.11 L227.95 215.45 L227.51 214.78 L227.05 214.12 L226.57 213.46 L226.07 212.79 L225.56 212.13 L225.04 211.46 L224.50 210.80Z" fill="#7095D3" stroke="#262626" stroke-width="1.3" stroke-linejoin="round"/>
<path d="M297.3 312.7H360.0" stroke="#111" stroke-width="1.70" fill="none"/>
<path d="M329.0 272.7V312.7" stroke="#111" stroke-width="1.40" fill="none"/>
<path d="M325.7 272.7H332.3" stroke="#111" stroke-width="1.00" fill="none"/>
<path d="M318.3 298.3H342.3" stroke="#111" stroke-width="1.00" fill="none"/>
<path d="M367.3 312.7H430.7" stroke="#111" stroke-width="1.70" fill="none"/>
<path d="M399.0 260.3V312.7" stroke="#111" stroke-width="1.40" fill="none"/>
<path d="M395.7 260.3H402.3" stroke="#111" stroke-width="1.00" fill="none"/>
<path d="M394.0 298.3H404.0" stroke="#111" stroke-width="1.00" fill="none"/>
<path d="M465.80 211.50 L465.80 212.17 L465.81 212.83 L465.82 213.50 L465.84 214.16 L465.86 214.83 L465.89 215.49 L465.92 216.16 L465.95 216.82 L465.98 217.49 L466.01 218.15 L466.05 218.82 L466.10 219.48 L466.16 220.15 L466.23 220.82 L466.30 221.48 L466.38 222.15 L466.46 222.81 L466.54 223.48 L466.62 224.14 L466.70 224.81 L466.80 225.47 L466.90 226.14 L467.00 226.80 L467.11 227.47 L467.22 228.13 L467.33 228.80 L467.43 229.46 L467.54 230.13 L467.64 230.80 L467.73 231.46 L467.82 232.13 L467.90 232.79 L467.99 233.46 L468.09 234.12 L468.18 234.79 L468.27 235.45 L468.36 236.12 L468.43 236.78 L468.50 237.45 L468.55 238.11 L468.58 238.78 L468.60 239.45 L468.59 240.11 L468.53 240.78 L468.45 241.44 L468.33 242.11 L468.19 242.77 L468.02 243.44 L467.84 244.10 L467.66 244.77 L467.46 245.43 L467.27 246.10 L467.02 246.76 L466.70 247.43 L466.34 248.09 L465.97 248.76 L465.61 249.43 L465.30 250.09 L465.06 250.76 L464.91 251.42 L464.76 252.09 L464.62 252.75 L464.50 253.42 L464.39 254.08 L464.30 254.75 L464.24 255.41 L464.20 256.08 L464.21 256.74 L464.26 257.41 L464.35 258.08 L464.47 258.74 L464.62 259.41 L464.79 260.07 L464.97 260.74 L465.15 261.40 L465.32 262.07 L465.51 262.73 L465.74 263.40 L466.00 264.06 L466.26 264.73 L466.51 265.39 L466.74 266.06 L466.94 266.72 L467.09 267.39 L467.23 268.06 L467.38 268.72 L467.51 269.39 L467.63 270.05 L467.72 270.72 L467.78 271.38 L467.80 272.05 L467.76 272.71 L467.67 273.38 L467.52 274.04 L467.34 274.71 L467.14 275.37 L466.92 276.04 L466.70 276.71 L466.47 277.37 L466.21 278.04 L465.91 278.70 L465.59 279.37 L465.24 280.03 L464.89 280.70 L464.53 281.36 L464.17 282.03 L463.79 282.69 L463.39 283.36 L462.98 284.02 L462.56 284.69 L462.13 285.35 L461.70 286.02 L461.28 286.69 L460.86 287.35 L460.46 288.02 L460.07 288.68 L459.70 289.35 L459.35 290.01 L459.02 290.68 L458.69 291.34 L458.37 292.01 L458.05 292.67 L457.71 293.34 L457.37 294.00 L457.01 294.67 L456.62 295.34 L456.20 296.00 L455.76 296.67 L455.29 297.33 L454.81 298.00 L454.30 298.66 L453.77 299.33 L453.21 299.99 L452.62 300.66 L451.99 301.32 L451.32 301.99 L450.61 302.65 L449.86 303.32 L448.97 303.98 L447.94 304.65 L446.81 305.32 L445.63 305.98 L444.45 306.65 L443.30 307.31 L442.23 307.98 L441.10 308.64 L439.86 309.31 L438.79 309.97 L438.16 310.64 L438.25 311.30 L438.92 311.97 L439.72 312.63 L440.80 313.30 L498.80 313.30 L499.88 312.63 L500.68 311.97 L501.35 311.30 L501.44 310.64 L500.81 309.97 L499.74 309.31 L498.50 308.64 L497.37 307.98 L496.30 307.31 L495.15 306.65 L493.97 305.98 L492.79 305.32 L491.66 304.65 L490.63 303.98 L489.74 303.32 L488.99 302.65 L488.28 301.99 L487.61 301.32 L486.98 300.66 L486.39 299.99 L485.83 299.33 L485.30 298.66 L484.79 298.00 L484.31 297.33 L483.84 296.67 L483.40 296.00 L482.98 295.34 L482.59 294.67 L482.23 294.00 L481.89 293.34 L481.55 292.67 L481.23 292.01 L480.91 291.34 L480.58 290.68 L480.25 290.01 L479.90 289.35 L479.53 288.68 L479.14 288.02 L478.74 287.35 L478.32 286.69 L477.90 286.02 L477.47 285.35 L477.04 284.69 L476.62 284.02 L476.21 283.36 L475.81 282.69 L475.43 282.03 L475.07 281.36 L474.71 280.70 L474.36 280.03 L474.01 279.37 L473.69 278.70 L473.39 278.04 L473.13 277.37 L472.90 276.71 L472.68 276.04 L472.46 275.37 L472.26 274.71 L472.08 274.04 L471.93 273.38 L471.84 272.71 L471.80 272.05 L471.82 271.38 L471.88 270.72 L471.97 270.05 L472.09 269.39 L472.22 268.72 L472.37 268.06 L472.51 267.39 L472.66 266.72 L472.86 266.06 L473.09 265.39 L473.34 264.73 L473.60 264.06 L473.86 263.40 L474.09 262.73 L474.28 262.07 L474.45 261.40 L474.63 260.74 L474.81 260.07 L474.98 259.41 L475.13 258.74 L475.25 258.08 L475.34 257.41 L475.39 256.74 L475.40 256.08 L475.36 255.41 L475.30 254.75 L475.21 254.08 L475.10 253.42 L474.98 252.75 L474.84 252.09 L474.69 251.42 L474.54 250.76 L474.30 250.09 L473.99 249.43 L473.63 248.76 L473.26 248.09 L472.90 247.43 L472.58 246.76 L472.33 246.10 L472.14 245.43 L471.94 244.77 L471.76 244.10 L471.58 243.44 L471.41 242.77 L471.27 242.11 L471.15 241.44 L471.07 240.78 L471.01 240.11 L471.00 239.45 L471.02 238.78 L471.05 238.11 L471.10 237.45 L471.17 236.78 L471.24 236.12 L471.33 235.45 L471.42 234.79 L471.51 234.12 L471.61 233.46 L471.70 232.79 L471.78 232.13 L471.87 231.46 L471.96 230.80 L472.06 230.13 L472.17 229.46 L472.27 228.80 L472.38 228.13 L472.49 227.47 L472.60 226.80 L472.70 226.14 L472.80 225.47 L472.90 224.81 L472.98 224.14 L473.06 223.48 L473.14 222.81 L473.22 222.15 L473.30 221.48 L473.37 220.82 L473.44 220.15 L473.50 219.48 L473.55 218.82 L473.59 218.15 L473.62 217.49 L473.65 216.82 L473.68 216.16 L473.71 215.49 L473.74 214.83 L473.76 214.16 L473.78 213.50 L473.79 212.83 L473.80 212.17 L473.80 211.50Z" fill="#7095D3" stroke="#262626" stroke-width="1.3" stroke-linejoin="round"/>
<path d="M586.60 224.70 L586.65 225.37 L586.72 226.03 L586.80 226.70 L586.90 227.36 L587.01 228.03 L587.16 228.70 L587.38 229.36 L587.59 230.03 L587.75 230.70 L587.80 231.36 L587.82 232.03 L587.83 232.69 L587.85 233.36 L587.86 234.03 L587.87 234.69 L587.88 235.36 L587.88 236.02 L587.89 236.69 L587.89 237.36 L587.90 238.02 L587.90 238.69 L587.90 239.36 L587.90 240.02 L587.90 240.69 L587.89 241.35 L587.88 242.02 L587.87 242.69 L587.85 243.35 L587.83 244.02 L587.80 244.68 L587.78 245.35 L587.75 246.02 L587.72 246.68 L587.67 247.35 L587.57 248.02 L587.42 248.68 L587.26 249.35 L587.10 250.01 L586.98 250.68 L586.91 251.35 L586.92 252.01 L587.01 252.68 L587.15 253.35 L587.32 254.01 L587.49 254.68 L587.62 255.34 L587.70 256.01 L587.74 256.68 L587.77 257.34 L587.80 258.01 L587.83 258.67 L587.86 259.34 L587.87 260.01 L587.89 260.67 L587.90 261.34 L587.90 262.01 L587.89 262.67 L587.85 263.34 L587.80 264.00 L587.74 264.67 L587.67 265.34 L587.60 266.00 L587.51 266.67 L587.39 267.33 L587.27 268.00 L587.17 268.67 L587.11 269.33 L587.11 270.00 L587.19 270.67 L587.31 271.33 L587.44 272.00 L587.57 272.66 L587.66 273.33 L587.70 274.00 L587.66 274.66 L587.56 275.33 L587.42 275.99 L587.24 276.66 L587.06 277.33 L586.87 277.99 L586.71 278.66 L586.58 279.33 L586.48 279.99 L586.38 280.66 L586.30 281.32 L586.22 281.99 L586.14 282.66 L586.06 283.32 L585.98 283.99 L585.89 284.65 L585.79 285.32 L585.68 285.99 L585.55 286.65 L585.40 287.32 L585.22 287.99 L585.03 288.65 L584.82 289.32 L584.59 289.98 L584.36 290.65 L584.11 291.32 L583.85 291.98 L583.58 292.65 L583.32 293.32 L583.04 293.98 L582.77 294.65 L582.48 295.31 L582.17 295.98 L581.83 296.65 L581.47 297.31 L581.07 297.98 L580.63 298.64 L580.13 299.31 L579.57 299.98 L578.95 300.64 L578.27 301.31 L577.52 301.98 L576.72 302.64 L575.86 303.31 L574.86 303.97 L573.72 304.64 L572.45 305.31 L571.06 305.97 L569.57 306.64 L567.88 307.30 L565.85 307.97 L563.77 308.64 L561.93 309.30 L560.02 309.97 L558.20 310.64 L557.04 311.30 L557.03 311.97 L557.90 312.63 L559.60 313.30 L617.60 313.30 L619.30 312.63 L620.17 311.97 L620.16 311.30 L619.00 310.64 L617.18 309.97 L615.27 309.30 L613.43 308.64 L611.35 307.97 L609.32 307.30 L607.63 306.64 L606.14 305.97 L604.75 305.31 L603.48 304.64 L602.34 303.97 L601.34 303.31 L600.48 302.64 L599.68 301.98 L598.93 301.31 L598.25 300.64 L597.63 299.98 L597.07 299.31 L596.57 298.64 L596.13 297.98 L595.73 297.31 L595.37 296.65 L595.03 295.98 L594.72 295.31 L594.43 294.65 L594.16 293.98 L593.88 293.32 L593.62 292.65 L593.35 291.98 L593.09 291.32 L592.84 290.65 L592.61 289.98 L592.38 289.32 L592.17 288.65 L591.98 287.99 L591.80 287.32 L591.65 286.65 L591.52 285.99 L591.41 285.32 L591.31 284.65 L591.22 283.99 L591.14 283.32 L591.06 282.66 L590.98 281.99 L590.90 281.32 L590.82 280.66 L590.72 279.99 L590.62 279.33 L590.49 278.66 L590.33 277.99 L590.14 277.33 L589.96 276.66 L589.78 275.99 L589.64 275.33 L589.54 274.66 L589.50 274.00 L589.54 273.33 L589.63 272.66 L589.76 272.00 L589.89 271.33 L590.01 270.67 L590.09 270.00 L590.09 269.33 L590.03 268.67 L589.93 268.00 L589.81 267.33 L589.69 266.67 L589.60 266.00 L589.53 265.34 L589.46 264.67 L589.40 264.00 L589.35 263.34 L589.31 262.67 L589.30 262.01 L589.30 261.34 L589.31 260.67 L589.33 260.01 L589.34 259.34 L589.37 258.67 L589.40 258.01 L589.43 257.34 L589.46 256.68 L589.50 256.01 L589.58 255.34 L589.71 254.68 L589.88 254.01 L590.05 253.35 L590.19 252.68 L590.28 252.01 L590.29 251.35 L590.22 250.68 L590.10 250.01 L589.94 249.35 L589.78 248.68 L589.63 248.02 L589.53 247.35 L589.48 246.68 L589.45 246.02 L589.42 245.35 L589.40 244.68 L589.37 244.02 L589.35 243.35 L589.33 242.69 L589.32 242.02 L589.31 241.35 L589.30 240.69 L589.30 240.02 L589.30 239.36 L589.30 238.69 L589.30 238.02 L589.31 237.36 L589.31 236.69 L589.32 236.02 L589.32 235.36 L589.33 234.69 L589.34 234.03 L589.35 233.36 L589.37 232.69 L589.38 232.03 L589.40 231.36 L589.45 230.70 L589.61 230.03 L589.82 229.36 L590.04 228.70 L590.19 228.03 L590.30 227.36 L590.40 226.70 L590.48 226.03 L590.55 225.37 L590.60 224.70Z" fill="#F26F68" stroke="#262626" stroke-width="1.3" stroke-linejoin="round"/>
<path d="M627.3 312.7H690.7" stroke="#111" stroke-width="1.70" fill="none"/>
<path d="M659.0 296.0V312.7" stroke="#111" stroke-width="1.40" fill="none"/>
<path d="M656.3 296.0H662.3" stroke="#111" stroke-width="1.00" fill="none"/>
<path d="M655.7 300.3H663.0" stroke="#111" stroke-width="1.00" fill="none"/>
<path d="M655.7 304.3H663.0" stroke="#111" stroke-width="1.00" fill="none"/>
<path d="M724.80 210.80 L724.66 211.47 L724.55 212.13 L724.46 212.80 L724.40 213.46 L724.35 214.13 L724.33 214.79 L724.31 215.46 L724.30 216.12 L724.30 216.79 L724.33 217.46 L724.42 218.12 L724.56 218.79 L724.73 219.45 L724.93 220.12 L725.15 220.78 L725.37 221.45 L725.59 222.11 L725.80 222.78 L725.98 223.45 L726.12 224.11 L726.25 224.78 L726.38 225.44 L726.52 226.11 L726.64 226.77 L726.77 227.44 L726.90 228.11 L727.02 228.77 L727.14 229.44 L727.25 230.10 L727.36 230.77 L727.46 231.43 L727.56 232.10 L727.65 232.76 L727.74 233.43 L727.82 234.10 L727.89 234.76 L727.95 235.43 L728.01 236.09 L728.06 236.76 L728.11 237.42 L728.16 238.09 L728.20 238.75 L728.25 239.42 L728.30 240.09 L728.34 240.75 L728.38 241.42 L728.42 242.08 L728.45 242.75 L728.49 243.41 L728.52 244.08 L728.54 244.74 L728.56 245.41 L728.58 246.08 L728.59 246.74 L728.60 247.41 L728.60 248.07 L728.60 248.74 L728.59 249.40 L728.58 250.07 L728.57 250.74 L728.56 251.40 L728.54 252.07 L728.52 252.73 L728.50 253.40 L728.48 254.06 L728.45 254.73 L728.42 255.39 L728.39 256.06 L728.36 256.73 L728.33 257.39 L728.30 258.06 L728.27 258.72 L728.23 259.39 L728.20 260.05 L728.16 260.72 L728.11 261.38 L728.06 262.05 L728.01 262.72 L727.95 263.38 L727.88 264.05 L727.80 264.71 L727.72 265.38 L727.64 266.04 L727.55 266.71 L727.46 267.37 L727.36 268.04 L727.25 268.71 L727.14 269.37 L727.02 270.04 L726.87 270.70 L726.70 271.37 L726.52 272.03 L726.31 272.70 L726.09 273.36 L725.85 274.03 L725.61 274.70 L725.35 275.36 L725.10 276.03 L724.84 276.69 L724.58 277.36 L724.31 278.02 L724.02 278.69 L723.73 279.36 L723.42 280.02 L723.10 280.69 L722.76 281.35 L722.42 282.02 L722.05 282.68 L721.68 283.35 L721.29 284.01 L720.88 284.68 L720.45 285.35 L720.00 286.01 L719.52 286.68 L719.02 287.34 L718.51 288.01 L717.97 288.67 L717.42 289.34 L716.86 290.00 L716.27 290.67 L715.68 291.34 L715.05 292.00 L714.39 292.67 L713.70 293.33 L712.98 294.00 L712.24 294.66 L711.49 295.33 L710.72 295.99 L709.94 296.66 L709.15 297.33 L708.30 297.99 L707.39 298.66 L706.46 299.32 L705.53 299.99 L704.64 300.65 L703.82 301.32 L703.11 301.99 L702.47 302.65 L701.84 303.32 L701.23 303.98 L700.67 304.65 L700.18 305.31 L699.77 305.98 L699.46 306.64 L699.23 307.31 L699.02 307.98 L698.84 308.64 L698.70 309.31 L698.62 309.97 L698.62 310.64 L698.86 311.30 L699.33 311.97 L699.97 312.63 L700.70 313.30 L759.70 313.30 L760.43 312.63 L761.07 311.97 L761.54 311.30 L761.78 310.64 L761.78 309.97 L761.70 309.31 L761.56 308.64 L761.38 307.98 L761.17 307.31 L760.94 306.64 L760.63 305.98 L760.22 305.31 L759.73 304.65 L759.17 303.98 L758.56 303.32 L757.93 302.65 L757.29 301.99 L756.58 301.32 L755.76 300.65 L754.87 299.99 L753.94 299.32 L753.01 298.66 L752.10 297.99 L751.25 297.33 L750.46 296.66 L749.68 295.99 L748.91 295.33 L748.16 294.66 L747.42 294.00 L746.70 293.33 L746.01 292.67 L745.35 292.00 L744.72 291.34 L744.13 290.67 L743.54 290.00 L742.98 289.34 L742.43 288.67 L741.89 288.01 L741.38 287.34 L740.88 286.68 L740.40 286.01 L739.95 285.35 L739.52 284.68 L739.11 284.01 L738.72 283.35 L738.35 282.68 L737.98 282.02 L737.64 281.35 L737.30 280.69 L736.98 280.02 L736.67 279.36 L736.38 278.69 L736.09 278.02 L735.82 277.36 L735.56 276.69 L735.30 276.03 L735.05 275.36 L734.79 274.70 L734.55 274.03 L734.31 273.36 L734.09 272.70 L733.88 272.03 L733.70 271.37 L733.53 270.70 L733.38 270.04 L733.26 269.37 L733.15 268.71 L733.04 268.04 L732.94 267.37 L732.85 266.71 L732.76 266.04 L732.68 265.38 L732.60 264.71 L732.52 264.05 L732.45 263.38 L732.39 262.72 L732.34 262.05 L732.29 261.38 L732.24 260.72 L732.20 260.05 L732.17 259.39 L732.13 258.72 L732.10 258.06 L732.07 257.39 L732.04 256.73 L732.01 256.06 L731.98 255.39 L731.95 254.73 L731.92 254.06 L731.90 253.40 L731.88 252.73 L731.86 252.07 L731.84 251.40 L731.83 250.74 L731.82 250.07 L731.81 249.40 L731.80 248.74 L731.80 248.07 L731.80 247.41 L731.81 246.74 L731.82 246.08 L731.84 245.41 L731.86 244.74 L731.88 244.08 L731.91 243.41 L731.95 242.75 L731.98 242.08 L732.02 241.42 L732.06 240.75 L732.10 240.09 L732.15 239.42 L732.20 238.75 L732.24 238.09 L732.29 237.42 L732.34 236.76 L732.39 236.09 L732.45 235.43 L732.51 234.76 L732.58 234.10 L732.66 233.43 L732.75 232.76 L732.84 232.10 L732.94 231.43 L733.04 230.77 L733.15 230.10 L733.26 229.44 L733.38 228.77 L733.50 228.11 L733.63 227.44 L733.76 226.77 L733.88 226.11 L734.02 225.44 L734.15 224.78 L734.28 224.11 L734.42 223.45 L734.60 222.78 L734.81 222.11 L735.03 221.45 L735.25 220.78 L735.47 220.12 L735.67 219.45 L735.84 218.79 L735.98 218.12 L736.07 217.46 L736.10 216.79 L736.10 216.12 L736.09 215.46 L736.07 214.79 L736.05 214.13 L736.00 213.46 L735.94 212.80 L735.85 212.13 L735.74 211.47 L735.60 210.80Z" fill="#7095D3" stroke="#262626" stroke-width="1.3" stroke-linejoin="round"/>
<path d="M43.3 476.3H106.0" stroke="#111" stroke-width="1.70" fill="none"/>
<path d="M112.3 476.3H175.0" stroke="#111" stroke-width="1.70" fill="none"/>
<path d="M144.0 433.7V476.3" stroke="#111" stroke-width="1.40" fill="none"/>
<path d="M142.3 433.7H145.7" stroke="#111" stroke-width="1.00" fill="none"/>
<path d="M181.7 476.3H244.3" stroke="#111" stroke-width="1.70" fill="none"/>
<path d="M213.3 376.7V476.3" stroke="#111" stroke-width="1.40" fill="none"/>
<path d="M322.90 391.90 L322.28 392.56 L321.73 393.23 L321.26 393.89 L320.89 394.56 L320.57 395.22 L320.28 395.89 L320.02 396.55 L319.79 397.22 L319.57 397.88 L319.34 398.55 L319.11 399.21 L318.88 399.88 L318.67 400.54 L318.46 401.20 L318.27 401.87 L318.10 402.53 L317.95 403.20 L317.84 403.86 L317.75 404.53 L317.71 405.19 L317.70 405.86 L317.70 406.52 L317.71 407.19 L317.72 407.85 L317.73 408.52 L317.74 409.18 L317.76 409.84 L317.78 410.51 L317.80 411.17 L317.82 411.84 L317.84 412.50 L317.87 413.17 L317.89 413.83 L317.93 414.50 L317.99 415.16 L318.08 415.83 L318.19 416.49 L318.31 417.16 L318.45 417.82 L318.59 418.48 L318.74 419.15 L318.89 419.81 L319.03 420.48 L319.16 421.14 L319.28 421.81 L319.38 422.47 L319.46 423.14 L319.51 423.80 L319.56 424.47 L319.61 425.13 L319.66 425.80 L319.70 426.46 L319.74 427.12 L319.78 427.79 L319.81 428.45 L319.84 429.12 L319.86 429.78 L319.88 430.45 L319.89 431.11 L319.90 431.78 L319.89 432.44 L319.82 433.11 L319.71 433.77 L319.55 434.44 L319.37 435.10 L319.15 435.76 L318.91 436.43 L318.66 437.09 L318.40 437.76 L318.12 438.42 L317.76 439.09 L317.33 439.75 L316.84 440.42 L316.30 441.08 L315.72 441.75 L315.11 442.41 L314.48 443.08 L313.85 443.74 L313.23 444.40 L312.62 445.07 L312.01 445.73 L311.39 446.40 L310.74 447.06 L310.08 447.73 L309.40 448.39 L308.72 449.06 L308.03 449.72 L307.34 450.39 L306.66 451.05 L305.98 451.72 L305.32 452.38 L304.65 453.04 L303.95 453.71 L303.23 454.37 L302.52 455.04 L301.82 455.70 L301.16 456.37 L300.54 457.03 L299.99 457.70 L299.52 458.36 L299.10 459.03 L298.67 459.69 L298.24 460.36 L297.84 461.02 L297.48 461.68 L297.17 462.35 L296.92 463.01 L296.76 463.68 L296.70 464.34 L296.71 465.01 L296.74 465.67 L296.79 466.34 L296.86 467.00 L296.95 467.67 L297.06 468.33 L297.19 469.00 L297.33 469.66 L297.48 470.32 L297.74 470.99 L298.23 471.65 L298.90 472.32 L299.71 472.98 L300.62 473.65 L301.59 474.31 L302.57 474.98 L303.58 475.64 L304.74 476.31 L306.03 476.97 L307.43 477.64 L308.90 478.30 L348.50 478.30 L349.97 477.64 L351.37 476.97 L352.66 476.31 L353.82 475.64 L354.83 474.98 L355.81 474.31 L356.78 473.65 L357.69 472.98 L358.50 472.32 L359.17 471.65 L359.66 470.99 L359.92 470.32 L360.07 469.66 L360.21 469.00 L360.34 468.33 L360.45 467.67 L360.54 467.00 L360.61 466.34 L360.66 465.67 L360.69 465.01 L360.70 464.34 L360.64 463.68 L360.48 463.01 L360.23 462.35 L359.92 461.68 L359.56 461.02 L359.16 460.36 L358.73 459.69 L358.30 459.03 L357.88 458.36 L357.41 457.70 L356.86 457.03 L356.24 456.37 L355.58 455.70 L354.88 455.04 L354.17 454.37 L353.45 453.71 L352.75 453.04 L352.08 452.38 L351.42 451.72 L350.74 451.05 L350.06 450.39 L349.37 449.72 L348.68 449.06 L348.00 448.39 L347.32 447.73 L346.66 447.06 L346.01 446.40 L345.39 445.73 L344.78 445.07 L344.17 444.40 L343.55 443.74 L342.92 443.08 L342.29 442.41 L341.68 441.75 L341.10 441.08 L340.56 440.42 L340.07 439.75 L339.64 439.09 L339.28 438.42 L339.00 437.76 L338.74 437.09 L338.49 436.43 L338.25 435.76 L338.03 435.10 L337.85 434.44 L337.69 433.77 L337.58 433.11 L337.51 432.44 L337.50 431.78 L337.51 431.11 L337.52 430.45 L337.54 429.78 L337.56 429.12 L337.59 428.45 L337.62 427.79 L337.66 427.12 L337.70 426.46 L337.74 425.80 L337.79 425.13 L337.84 424.47 L337.89 423.80 L337.94 423.14 L338.02 422.47 L338.12 421.81 L338.24 421.14 L338.37 420.48 L338.51 419.81 L338.66 419.15 L338.81 418.48 L338.95 417.82 L339.09 417.16 L339.21 416.49 L339.32 415.83 L339.41 415.16 L339.47 414.50 L339.51 413.83 L339.53 413.17 L339.56 412.50 L339.58 411.84 L339.60 411.17 L339.62 410.51 L339.64 409.84 L339.66 409.18 L339.67 408.52 L339.68 407.85 L339.69 407.19 L339.70 406.52 L339.70 405.86 L339.69 405.19 L339.65 404.53 L339.56 403.86 L339.45 403.20 L339.30 402.53 L339.13 401.87 L338.94 401.20 L338.73 400.54 L338.52 399.88 L338.29 399.21 L338.06 398.55 L337.83 397.88 L337.61 397.22 L337.38 396.55 L337.12 395.89 L336.83 395.22 L336.51 394.56 L336.14 393.89 L335.67 393.23 L335.12 392.56 L334.50 391.90Z" fill="#F26F68" stroke="#262626" stroke-width="1.3" stroke-linejoin="round"/>
<path d="M394.10 383.30 L393.88 383.96 L393.67 384.63 L393.45 385.29 L393.23 385.96 L393.01 386.62 L392.79 387.29 L392.58 387.95 L392.36 388.61 L392.14 389.28 L391.92 389.94 L391.70 390.61 L391.48 391.27 L391.26 391.94 L391.03 392.60 L390.81 393.27 L390.59 393.93 L390.37 394.59 L390.14 395.26 L389.91 395.92 L389.66 396.59 L389.41 397.25 L389.16 397.92 L388.89 398.58 L388.63 399.24 L388.36 399.91 L388.10 400.57 L387.84 401.24 L387.58 401.90 L387.32 402.57 L387.07 403.23 L386.83 403.89 L386.60 404.56 L386.39 405.22 L386.18 405.89 L385.99 406.55 L385.81 407.22 L385.66 407.88 L385.52 408.54 L385.40 409.21 L385.29 409.87 L385.18 410.54 L385.08 411.20 L384.97 411.87 L384.87 412.53 L384.78 413.20 L384.68 413.86 L384.59 414.52 L384.51 415.19 L384.43 415.85 L384.36 416.52 L384.29 417.18 L384.24 417.85 L384.19 418.51 L384.15 419.17 L384.12 419.84 L384.11 420.50 L384.10 421.17 L384.11 421.83 L384.14 422.50 L384.19 423.16 L384.26 423.82 L384.34 424.49 L384.43 425.15 L384.53 425.82 L384.63 426.48 L384.74 427.15 L384.85 427.81 L384.95 428.47 L385.05 429.14 L385.15 429.80 L385.23 430.47 L385.30 431.13 L385.35 431.80 L385.39 432.46 L385.40 433.13 L385.39 433.79 L385.36 434.45 L385.31 435.12 L385.23 435.78 L385.15 436.45 L385.05 437.11 L384.93 437.78 L384.81 438.44 L384.68 439.10 L384.55 439.77 L384.40 440.43 L384.20 441.10 L383.96 441.76 L383.68 442.43 L383.37 443.09 L383.04 443.75 L382.70 444.42 L382.36 445.08 L382.01 445.75 L381.64 446.41 L381.24 447.08 L380.82 447.74 L380.38 448.40 L379.93 449.07 L379.47 449.73 L378.99 450.40 L378.51 451.06 L378.02 451.73 L377.53 452.39 L377.05 453.06 L376.57 453.72 L376.09 454.38 L375.62 455.05 L375.14 455.71 L374.62 456.38 L374.09 457.04 L373.55 457.71 L373.01 458.37 L372.46 459.03 L371.93 459.70 L371.40 460.36 L370.90 461.03 L370.43 461.69 L369.99 462.36 L369.58 463.02 L369.23 463.68 L368.92 464.35 L368.64 465.01 L368.37 465.68 L368.09 466.34 L367.83 467.01 L367.60 467.67 L367.40 468.33 L367.25 469.00 L367.14 469.66 L367.10 470.33 L367.14 470.99 L367.27 471.66 L367.49 472.32 L367.78 472.99 L368.12 473.65 L368.52 474.31 L368.95 474.98 L369.48 475.64 L370.31 476.31 L371.37 476.97 L372.59 477.64 L373.90 478.30 L424.70 478.30 L426.01 477.64 L427.23 476.97 L428.29 476.31 L429.12 475.64 L429.65 474.98 L430.08 474.31 L430.48 473.65 L430.82 472.99 L431.11 472.32 L431.33 471.66 L431.46 470.99 L431.50 470.33 L431.46 469.66 L431.35 469.00 L431.20 468.33 L431.00 467.67 L430.77 467.01 L430.51 466.34 L430.23 465.68 L429.96 465.01 L429.68 464.35 L429.37 463.68 L429.02 463.02 L428.61 462.36 L428.17 461.69 L427.70 461.03 L427.20 460.36 L426.67 459.70 L426.14 459.03 L425.59 458.37 L425.05 457.71 L424.51 457.04 L423.98 456.38 L423.46 455.71 L422.98 455.05 L422.51 454.38 L422.03 453.72 L421.55 453.06 L421.07 452.39 L420.58 451.73 L420.09 451.06 L419.61 450.40 L419.13 449.73 L418.67 449.07 L418.22 448.40 L417.78 447.74 L417.36 447.08 L416.96 446.41 L416.59 445.75 L416.24 445.08 L415.90 444.42 L415.56 443.75 L415.23 443.09 L414.92 442.43 L414.64 441.76 L414.40 441.10 L414.20 440.43 L414.05 439.77 L413.92 439.10 L413.79 438.44 L413.67 437.78 L413.55 437.11 L413.45 436.45 L413.37 435.78 L413.29 435.12 L413.24 434.45 L413.21 433.79 L413.20 433.13 L413.21 432.46 L413.25 431.80 L413.30 431.13 L413.37 430.47 L413.45 429.80 L413.55 429.14 L413.65 428.47 L413.75 427.81 L413.86 427.15 L413.97 426.48 L414.07 425.82 L414.17 425.15 L414.26 424.49 L414.34 423.82 L414.41 423.16 L414.46 422.50 L414.49 421.83 L414.50 421.17 L414.49 420.50 L414.48 419.84 L414.45 419.17 L414.41 418.51 L414.36 417.85 L414.31 417.18 L414.24 416.52 L414.17 415.85 L414.09 415.19 L414.01 414.52 L413.92 413.86 L413.82 413.20 L413.73 412.53 L413.63 411.87 L413.52 411.20 L413.42 410.54 L413.31 409.87 L413.20 409.21 L413.08 408.54 L412.94 407.88 L412.79 407.22 L412.61 406.55 L412.42 405.89 L412.21 405.22 L412.00 404.56 L411.77 403.89 L411.53 403.23 L411.28 402.57 L411.02 401.90 L410.76 401.24 L410.50 400.57 L410.24 399.91 L409.97 399.24 L409.71 398.58 L409.44 397.92 L409.19 397.25 L408.94 396.59 L408.69 395.92 L408.46 395.26 L408.23 394.59 L408.01 393.93 L407.79 393.27 L407.57 392.60 L407.34 391.94 L407.12 391.27 L406.90 390.61 L406.68 389.94 L406.46 389.28 L406.24 388.61 L406.02 387.95 L405.81 387.29 L405.59 386.62 L405.37 385.96 L405.15 385.29 L404.93 384.63 L404.72 383.96 L404.50 383.30Z" fill="#2AB34B" stroke="#262626" stroke-width="1.3" stroke-linejoin="round"/>
<path d="M468.10 376.10 L468.00 376.76 L467.88 377.43 L467.74 378.09 L467.58 378.75 L467.39 379.42 L467.20 380.08 L466.99 380.75 L466.77 381.41 L466.52 382.07 L466.22 382.74 L465.88 383.40 L465.49 384.06 L465.08 384.73 L464.66 385.39 L464.24 386.05 L463.82 386.72 L463.43 387.38 L463.06 388.05 L462.74 388.71 L462.44 389.37 L462.13 390.04 L461.80 390.70 L461.48 391.36 L461.17 392.03 L460.88 392.69 L460.63 393.35 L460.41 394.02 L460.24 394.68 L460.14 395.35 L460.10 396.01 L460.13 396.67 L460.20 397.34 L460.31 398.00 L460.46 398.66 L460.64 399.33 L460.85 399.99 L461.09 400.65 L461.34 401.32 L461.60 401.98 L461.87 402.65 L462.15 403.31 L462.53 403.97 L463.04 404.64 L463.64 405.30 L464.28 405.96 L464.93 406.63 L465.54 407.29 L466.07 407.95 L466.48 408.62 L466.72 409.28 L466.89 409.95 L467.05 410.61 L467.20 411.27 L467.34 411.94 L467.47 412.60 L467.59 413.26 L467.70 413.93 L467.80 414.59 L467.88 415.25 L467.95 415.92 L468.01 416.58 L468.06 417.25 L468.09 417.91 L468.10 418.57 L468.10 419.24 L468.09 419.90 L468.08 420.56 L468.06 421.23 L468.03 421.89 L468.00 422.55 L467.96 423.22 L467.92 423.88 L467.88 424.55 L467.83 425.21 L467.77 425.87 L467.72 426.54 L467.66 427.20 L467.60 427.86 L467.53 428.53 L467.47 429.19 L467.40 429.85 L467.33 430.52 L467.26 431.18 L467.18 431.85 L467.09 432.51 L466.99 433.17 L466.88 433.84 L466.77 434.50 L466.64 435.16 L466.49 435.83 L466.34 436.49 L466.17 437.15 L466.00 437.82 L465.80 438.48 L465.60 439.15 L465.37 439.81 L465.14 440.47 L464.89 441.14 L464.61 441.80 L464.22 442.46 L463.71 443.13 L463.07 443.79 L462.35 444.45 L461.55 445.12 L460.69 445.78 L459.80 446.45 L458.88 447.11 L457.96 447.77 L457.06 448.44 L456.19 449.10 L455.37 449.76 L454.61 450.43 L453.82 451.09 L453.01 451.75 L452.19 452.42 L451.36 453.08 L450.54 453.75 L449.73 454.41 L448.94 455.07 L448.17 455.74 L447.44 456.40 L446.74 457.06 L446.10 457.73 L445.51 458.39 L444.95 459.05 L444.39 459.72 L443.84 460.38 L443.31 461.05 L442.79 461.71 L442.29 462.37 L441.82 463.04 L441.39 463.70 L440.98 464.36 L440.62 465.03 L440.31 465.69 L440.05 466.35 L439.83 467.02 L439.64 467.68 L439.45 468.35 L439.27 469.01 L439.11 469.67 L438.96 470.34 L438.85 471.00 L438.76 471.66 L438.71 472.33 L438.70 472.99 L438.78 473.65 L438.96 474.32 L439.26 474.98 L439.69 475.65 L440.28 476.31 L441.03 476.97 L441.97 477.64 L446.70 478.30 L493.50 478.30 L498.23 477.64 L499.17 476.97 L499.92 476.31 L500.51 475.65 L500.94 474.98 L501.24 474.32 L501.42 473.65 L501.50 472.99 L501.49 472.33 L501.44 471.66 L501.35 471.00 L501.24 470.34 L501.09 469.67 L500.93 469.01 L500.75 468.35 L500.56 467.68 L500.37 467.02 L500.15 466.35 L499.89 465.69 L499.58 465.03 L499.22 464.36 L498.81 463.70 L498.38 463.04 L497.91 462.37 L497.41 461.71 L496.89 461.05 L496.36 460.38 L495.81 459.72 L495.25 459.05 L494.69 458.39 L494.10 457.73 L493.46 457.06 L492.76 456.40 L492.03 455.74 L491.26 455.07 L490.47 454.41 L489.66 453.75 L488.84 453.08 L488.01 452.42 L487.19 451.75 L486.38 451.09 L485.59 450.43 L484.83 449.76 L484.01 449.10 L483.14 448.44 L482.24 447.77 L481.32 447.11 L480.40 446.45 L479.51 445.78 L478.65 445.12 L477.85 444.45 L477.13 443.79 L476.49 443.13 L475.98 442.46 L475.59 441.80 L475.31 441.14 L475.06 440.47 L474.83 439.81 L474.60 439.15 L474.40 438.48 L474.20 437.82 L474.03 437.15 L473.86 436.49 L473.71 435.83 L473.56 435.16 L473.43 434.50 L473.32 433.84 L473.21 433.17 L473.11 432.51 L473.02 431.85 L472.94 431.18 L472.87 430.52 L472.80 429.85 L472.73 429.19 L472.67 428.53 L472.60 427.86 L472.54 427.20 L472.48 426.54 L472.43 425.87 L472.37 425.21 L472.32 424.55 L472.28 423.88 L472.24 423.22 L472.20 422.55 L472.17 421.89 L472.14 421.23 L472.12 420.56 L472.11 419.90 L472.10 419.24 L472.10 418.57 L472.11 417.91 L472.14 417.25 L472.19 416.58 L472.25 415.92 L472.32 415.25 L472.40 414.59 L472.50 413.93 L472.61 413.26 L472.73 412.60 L472.86 411.94 L473.00 411.27 L473.15 410.61 L473.31 409.95 L473.48 409.28 L473.72 408.62 L474.13 407.95 L474.66 407.29 L475.27 406.63 L475.92 405.96 L476.56 405.30 L477.16 404.64 L477.67 403.97 L478.05 403.31 L478.33 402.65 L478.60 401.98 L478.86 401.32 L479.11 400.65 L479.35 399.99 L479.56 399.33 L479.74 398.66 L479.89 398.00 L480.00 397.34 L480.07 396.67 L480.10 396.01 L480.06 395.35 L479.96 394.68 L479.79 394.02 L479.57 393.35 L479.32 392.69 L479.03 392.03 L478.72 391.36 L478.40 390.70 L478.07 390.04 L477.76 389.37 L477.46 388.71 L477.14 388.05 L476.77 387.38 L476.38 386.72 L475.96 386.05 L475.54 385.39 L475.12 384.73 L474.71 384.06 L474.32 383.40 L473.98 382.74 L473.68 382.07 L473.43 381.41 L473.21 380.75 L473.00 380.08 L472.81 379.42 L472.62 378.75 L472.46 378.09 L472.32 377.43 L472.20 376.76 L472.10 376.10Z" fill="#7095D3" stroke="#262626" stroke-width="1.3" stroke-linejoin="round"/>
<path d="M587.50 401.30 L587.55 401.96 L587.58 402.63 L587.62 403.29 L587.64 403.95 L587.66 404.62 L587.68 405.28 L587.69 405.94 L587.69 406.61 L587.70 407.27 L587.70 407.93 L587.70 408.60 L587.70 409.26 L587.68 409.93 L587.63 410.59 L587.55 411.25 L587.44 411.92 L587.31 412.58 L587.17 413.24 L587.00 413.91 L586.83 414.57 L586.64 415.23 L586.45 415.90 L586.25 416.56 L586.02 417.22 L585.74 417.89 L585.42 418.55 L585.05 419.21 L584.65 419.88 L584.22 420.54 L583.75 421.20 L583.26 421.87 L582.73 422.53 L582.19 423.19 L581.63 423.86 L581.05 424.52 L580.44 425.19 L579.75 425.85 L578.98 426.51 L578.13 427.18 L577.23 427.84 L576.28 428.50 L575.29 429.17 L574.27 429.83 L573.23 430.49 L572.18 431.16 L571.13 431.82 L570.09 432.48 L569.08 433.15 L568.03 433.81 L566.86 434.47 L565.63 435.14 L564.39 435.80 L563.17 436.46 L562.02 437.13 L560.99 437.79 L560.12 438.45 L559.46 439.12 L558.96 439.78 L558.47 440.45 L558.04 441.11 L557.72 441.77 L557.53 442.44 L557.51 443.10 L557.60 443.76 L557.76 444.43 L557.99 445.09 L558.27 445.75 L558.59 446.42 L558.93 447.08 L559.28 447.74 L559.80 448.41 L560.49 449.07 L561.31 449.73 L562.17 450.40 L563.03 451.06 L563.80 451.72 L564.44 452.39 L564.88 453.05 L565.22 453.71 L565.52 454.38 L565.78 455.04 L566.02 455.71 L566.22 456.37 L566.41 457.03 L566.57 457.70 L566.69 458.36 L566.80 459.02 L566.91 459.69 L567.02 460.35 L567.15 461.01 L567.31 461.68 L567.51 462.34 L567.78 463.00 L568.11 463.67 L568.50 464.33 L568.92 464.99 L569.39 465.66 L569.88 466.32 L570.40 466.98 L570.92 467.65 L571.45 468.31 L572.03 468.97 L572.65 469.64 L573.32 470.30 L574.03 470.97 L574.76 471.63 L575.53 472.29 L576.32 472.96 L577.13 473.62 L577.96 474.28 L578.84 474.95 L579.77 475.61 L580.75 476.27 L581.76 476.94 L582.80 477.60 L596.00 477.60 L597.04 476.94 L598.05 476.27 L599.03 475.61 L599.96 474.95 L600.84 474.28 L601.67 473.62 L602.48 472.96 L603.27 472.29 L604.04 471.63 L604.77 470.97 L605.48 470.30 L606.15 469.64 L606.77 468.97 L607.35 468.31 L607.88 467.65 L608.40 466.98 L608.92 466.32 L609.41 465.66 L609.88 464.99 L610.30 464.33 L610.69 463.67 L611.02 463.00 L611.29 462.34 L611.49 461.68 L611.65 461.01 L611.78 460.35 L611.89 459.69 L612.00 459.02 L612.11 458.36 L612.23 457.70 L612.39 457.03 L612.58 456.37 L612.78 455.71 L613.02 455.04 L613.28 454.38 L613.58 453.71 L613.92 453.05 L614.36 452.39 L615.00 451.72 L615.77 451.06 L616.63 450.40 L617.49 449.73 L618.31 449.07 L619.00 448.41 L619.52 447.74 L619.87 447.08 L620.21 446.42 L620.53 445.75 L620.81 445.09 L621.04 444.43 L621.20 443.76 L621.29 443.10 L621.27 442.44 L621.08 441.77 L620.76 441.11 L620.33 440.45 L619.84 439.78 L619.34 439.12 L618.68 438.45 L617.81 437.79 L616.78 437.13 L615.63 436.46 L614.41 435.80 L613.17 435.14 L611.94 434.47 L610.77 433.81 L609.72 433.15 L608.71 432.48 L607.67 431.82 L606.62 431.16 L605.57 430.49 L604.53 429.83 L603.51 429.17 L602.52 428.50 L601.57 427.84 L600.67 427.18 L599.82 426.51 L599.05 425.85 L598.36 425.19 L597.75 424.52 L597.17 423.86 L596.61 423.19 L596.07 422.53 L595.54 421.87 L595.05 421.20 L594.58 420.54 L594.15 419.88 L593.75 419.21 L593.38 418.55 L593.06 417.89 L592.78 417.22 L592.55 416.56 L592.35 415.90 L592.16 415.23 L591.97 414.57 L591.80 413.91 L591.63 413.24 L591.49 412.58 L591.36 411.92 L591.25 411.25 L591.17 410.59 L591.12 409.93 L591.10 409.26 L591.10 408.60 L591.10 407.93 L591.10 407.27 L591.11 406.61 L591.11 405.94 L591.12 405.28 L591.14 404.62 L591.16 403.95 L591.18 403.29 L591.22 402.63 L591.25 401.96 L591.30 401.30Z" fill="#F26F68" stroke="#262626" stroke-width="1.3" stroke-linejoin="round"/>
<path d="M641.60 376.10 L640.56 376.76 L639.55 377.43 L638.57 378.09 L637.64 378.75 L636.74 379.41 L635.87 380.08 L635.03 380.74 L634.24 381.40 L633.51 382.06 L632.77 382.73 L632.02 383.39 L631.29 384.05 L630.59 384.72 L629.94 385.38 L629.38 386.04 L628.92 386.70 L628.58 387.37 L628.37 388.03 L628.17 388.69 L628.00 389.35 L627.88 390.02 L627.81 390.68 L627.81 391.34 L627.89 392.01 L628.04 392.67 L628.25 393.33 L628.51 393.99 L628.83 394.66 L629.18 395.32 L629.57 395.98 L629.99 396.64 L630.43 397.31 L630.88 397.97 L631.34 398.63 L631.79 399.29 L632.25 399.96 L632.79 400.62 L633.40 401.28 L634.07 401.95 L634.80 402.61 L635.58 403.27 L636.39 403.93 L637.24 404.60 L638.10 405.26 L638.98 405.92 L639.87 406.58 L640.75 407.25 L641.61 407.91 L642.46 408.57 L643.27 409.24 L644.05 409.90 L644.77 410.56 L645.52 411.22 L646.30 411.89 L647.10 412.55 L647.92 413.21 L648.73 413.87 L649.53 414.54 L650.31 415.20 L651.06 415.86 L651.75 416.53 L652.39 417.19 L652.96 417.85 L653.45 418.51 L653.85 419.18 L654.15 419.84 L654.36 420.50 L654.56 421.16 L654.75 421.83 L654.93 422.49 L655.10 423.15 L655.26 423.82 L655.41 424.48 L655.55 425.14 L655.66 425.80 L655.77 426.47 L655.85 427.13 L655.92 427.79 L655.97 428.45 L655.99 429.12 L656.00 429.78 L655.92 430.44 L655.75 431.11 L655.51 431.77 L655.20 432.43 L654.84 433.09 L654.44 433.76 L654.01 434.42 L653.57 435.08 L653.13 435.74 L652.70 436.41 L652.30 437.07 L651.93 437.73 L651.60 438.39 L651.23 439.06 L650.83 439.72 L650.41 440.38 L650.00 441.05 L649.60 441.71 L649.23 442.37 L648.92 443.03 L648.66 443.70 L648.49 444.36 L648.40 445.02 L648.40 445.68 L648.42 446.35 L648.45 447.01 L648.50 447.67 L648.56 448.34 L648.64 449.00 L648.73 449.66 L648.84 450.32 L648.96 450.99 L649.17 451.65 L649.67 452.31 L650.38 452.97 L651.22 453.64 L652.10 454.30 L667.50 454.30 L668.38 453.64 L669.22 452.97 L669.93 452.31 L670.43 451.65 L670.64 450.99 L670.76 450.32 L670.87 449.66 L670.96 449.00 L671.04 448.34 L671.10 447.67 L671.15 447.01 L671.18 446.35 L671.20 445.68 L671.20 445.02 L671.11 444.36 L670.94 443.70 L670.68 443.03 L670.37 442.37 L670.00 441.71 L669.60 441.05 L669.19 440.38 L668.77 439.72 L668.37 439.06 L668.00 438.39 L667.67 437.73 L667.30 437.07 L666.90 436.41 L666.47 435.74 L666.03 435.08 L665.59 434.42 L665.16 433.76 L664.76 433.09 L664.40 432.43 L664.09 431.77 L663.85 431.11 L663.68 430.44 L663.60 429.78 L663.61 429.12 L663.63 428.45 L663.68 427.79 L663.75 427.13 L663.83 426.47 L663.94 425.80 L664.05 425.14 L664.19 424.48 L664.34 423.82 L664.50 423.15 L664.67 422.49 L664.85 421.83 L665.04 421.16 L665.24 420.50 L665.45 419.84 L665.75 419.18 L666.15 418.51 L666.64 417.85 L667.21 417.19 L667.85 416.53 L668.54 415.86 L669.29 415.20 L670.07 414.54 L670.87 413.87 L671.68 413.21 L672.50 412.55 L673.30 411.89 L674.08 411.22 L674.83 410.56 L675.55 409.90 L676.33 409.24 L677.14 408.57 L677.99 407.91 L678.85 407.25 L679.73 406.58 L680.62 405.92 L681.50 405.26 L682.36 404.60 L683.21 403.93 L684.02 403.27 L684.80 402.61 L685.53 401.95 L686.20 401.28 L686.81 400.62 L687.35 399.96 L687.81 399.29 L688.26 398.63 L688.72 397.97 L689.17 397.31 L689.61 396.64 L690.03 395.98 L690.42 395.32 L690.77 394.66 L691.09 393.99 L691.35 393.33 L691.56 392.67 L691.71 392.01 L691.79 391.34 L691.79 390.68 L691.72 390.02 L691.60 389.35 L691.43 388.69 L691.23 388.03 L691.02 387.37 L690.68 386.70 L690.22 386.04 L689.66 385.38 L689.01 384.72 L688.31 384.05 L687.58 383.39 L686.83 382.73 L686.09 382.06 L685.36 381.40 L684.57 380.74 L683.73 380.08 L682.86 379.41 L681.96 378.75 L681.03 378.09 L680.05 377.43 L679.04 376.76 L678.00 376.10Z" fill="#2AB34B" stroke="#262626" stroke-width="1.3" stroke-linejoin="round"/>
<path d="M727.10 394.30 L726.88 394.97 L726.65 395.63 L726.43 396.30 L726.19 396.96 L725.96 397.63 L725.72 398.29 L725.48 398.96 L725.24 399.62 L724.99 400.29 L724.74 400.95 L724.49 401.62 L724.23 402.28 L723.97 402.95 L723.71 403.61 L723.45 404.28 L723.18 404.94 L722.91 405.61 L722.62 406.27 L722.34 406.94 L722.05 407.60 L721.75 408.27 L721.45 408.93 L721.15 409.60 L720.85 410.26 L720.55 410.93 L720.26 411.59 L719.96 412.26 L719.67 412.92 L719.38 413.59 L719.09 414.25 L718.82 414.92 L718.55 415.58 L718.29 416.25 L718.03 416.91 L717.78 417.58 L717.53 418.24 L717.27 418.91 L717.01 419.57 L716.74 420.24 L716.46 420.90 L716.17 421.57 L715.87 422.23 L715.55 422.90 L715.22 423.56 L714.86 424.23 L714.47 424.89 L714.06 425.56 L713.62 426.22 L713.17 426.89 L712.70 427.55 L712.22 428.22 L711.73 428.88 L711.24 429.55 L710.74 430.21 L710.25 430.88 L709.77 431.54 L709.29 432.21 L708.82 432.87 L708.36 433.54 L707.88 434.20 L707.37 434.87 L706.85 435.53 L706.32 436.20 L705.81 436.87 L705.33 437.53 L704.88 438.20 L704.48 438.86 L704.14 439.53 L703.87 440.19 L703.66 440.86 L703.47 441.52 L703.28 442.19 L703.10 442.85 L702.95 443.52 L702.81 444.18 L702.71 444.85 L702.64 445.51 L702.60 446.18 L702.63 446.84 L702.75 447.51 L702.96 448.17 L703.23 448.84 L703.55 449.50 L703.90 450.17 L704.25 450.83 L704.59 451.50 L704.90 452.16 L705.18 452.83 L705.50 453.49 L705.85 454.16 L706.20 454.82 L706.54 455.49 L706.85 456.15 L707.11 456.82 L707.30 457.48 L707.39 458.15 L707.38 458.81 L707.26 459.48 L707.05 460.14 L706.77 460.81 L706.42 461.47 L706.03 462.14 L705.61 462.80 L705.16 463.47 L704.72 464.13 L704.29 464.80 L703.88 465.46 L703.48 466.13 L703.02 466.79 L702.52 467.46 L702.00 468.12 L701.47 468.79 L700.94 469.45 L700.44 470.12 L699.98 470.78 L699.58 471.45 L699.25 472.11 L699.01 472.78 L698.82 473.44 L698.64 474.11 L698.49 474.77 L698.37 475.44 L698.31 476.10 L698.43 476.77 L699.18 477.43 L700.20 478.10 L760.20 478.10 L761.22 477.43 L761.97 476.77 L762.09 476.10 L762.03 475.44 L761.91 474.77 L761.76 474.11 L761.58 473.44 L761.39 472.78 L761.15 472.11 L760.82 471.45 L760.42 470.78 L759.96 470.12 L759.46 469.45 L758.93 468.79 L758.40 468.12 L757.88 467.46 L757.38 466.79 L756.92 466.13 L756.52 465.46 L756.11 464.80 L755.68 464.13 L755.24 463.47 L754.79 462.80 L754.37 462.14 L753.98 461.47 L753.63 460.81 L753.35 460.14 L753.14 459.48 L753.02 458.81 L753.01 458.15 L753.10 457.48 L753.29 456.82 L753.55 456.15 L753.86 455.49 L754.20 454.82 L754.55 454.16 L754.90 453.49 L755.22 452.83 L755.50 452.16 L755.81 451.50 L756.15 450.83 L756.50 450.17 L756.85 449.50 L757.17 448.84 L757.44 448.17 L757.65 447.51 L757.77 446.84 L757.80 446.18 L757.76 445.51 L757.69 444.85 L757.59 444.18 L757.45 443.52 L757.30 442.85 L757.12 442.19 L756.93 441.52 L756.74 440.86 L756.53 440.19 L756.26 439.53 L755.92 438.86 L755.52 438.20 L755.07 437.53 L754.59 436.87 L754.08 436.20 L753.55 435.53 L753.03 434.87 L752.52 434.20 L752.04 433.54 L751.58 432.87 L751.11 432.21 L750.63 431.54 L750.15 430.88 L749.66 430.21 L749.16 429.55 L748.67 428.88 L748.18 428.22 L747.70 427.55 L747.23 426.89 L746.78 426.22 L746.34 425.56 L745.93 424.89 L745.54 424.23 L745.18 423.56 L744.85 422.90 L744.53 422.23 L744.23 421.57 L743.94 420.90 L743.66 420.24 L743.39 419.57 L743.13 418.91 L742.87 418.24 L742.62 417.58 L742.37 416.91 L742.11 416.25 L741.85 415.58 L741.58 414.92 L741.31 414.25 L741.02 413.59 L740.73 412.92 L740.44 412.26 L740.14 411.59 L739.85 410.93 L739.55 410.26 L739.25 409.60 L738.95 408.93 L738.65 408.27 L738.35 407.60 L738.06 406.94 L737.78 406.27 L737.49 405.61 L737.22 404.94 L736.95 404.28 L736.69 403.61 L736.43 402.95 L736.17 402.28 L735.91 401.62 L735.66 400.95 L735.41 400.29 L735.16 399.62 L734.92 398.96 L734.68 398.29 L734.44 397.63 L734.21 396.96 L733.97 396.30 L733.75 395.63 L733.52 394.97 L733.30 394.30Z" fill="#7095D3" stroke="#262626" stroke-width="1.3" stroke-linejoin="round"/>
<circle cx="98.0" cy="85.0" r="1.35"/>
<circle cx="59.6" cy="91.4" r="1.35"/>
<circle cx="66.4" cy="91.0" r="1.35"/>
<circle cx="75.2" cy="90.0" r="1.35"/>
<circle cx="89.2" cy="92.6" r="1.35"/>
<circle cx="93.6" cy="93.0" r="1.35"/>
<circle cx="53.0" cy="98.0" r="1.35"/>
<circle cx="55.4" cy="99.6" r="1.35"/>
<circle cx="60.0" cy="100.4" r="1.35"/>
<circle cx="69.0" cy="96.0" r="1.35"/>
<circle cx="72.6" cy="96.0" r="1.35"/>
<circle cx="67.6" cy="100.4" r="1.35"/>
<circle cx="71.4" cy="98.4" r="1.35"/>
<circle cx="76.0" cy="99.6" r="1.35"/>
<circle cx="77.6" cy="101.0" r="1.35"/>
<circle cx="81.6" cy="95.6" r="1.35"/>
<circle cx="89.0" cy="97.6" r="1.35"/>
<circle cx="99.4" cy="96.6" r="1.35"/>
<circle cx="98.0" cy="101.0" r="1.35"/>
<circle cx="101.0" cy="105.0" r="1.35"/>
<circle cx="61.4" cy="105.0" r="1.35"/>
<circle cx="69.0" cy="103.6" r="1.35"/>
<circle cx="76.4" cy="103.0" r="1.35"/>
<circle cx="77.0" cy="107.6" r="1.35"/>
<circle cx="74.4" cy="110.0" r="1.35"/>
<circle cx="80.0" cy="109.6" r="1.35"/>
<circle cx="65.0" cy="111.0" r="1.35"/>
<circle cx="51.6" cy="114.0" r="1.35"/>
<circle cx="60.0" cy="118.6" r="1.35"/>
<circle cx="71.0" cy="116.0" r="1.35"/>
<circle cx="87.0" cy="112.6" r="1.35"/>
<circle cx="91.0" cy="111.6" r="1.35"/>
<circle cx="84.4" cy="117.6" r="1.35"/>
<circle cx="97.6" cy="130.4" r="1.35"/>
<circle cx="129.6" cy="66.4" r="1.35"/>
<circle cx="147.1" cy="74.3" r="1.35"/>
<circle cx="136.3" cy="84.1" r="1.35"/>
<circle cx="126.3" cy="84.8" r="1.35"/>
<circle cx="121.8" cy="87.0" r="1.35"/>
<circle cx="116.2" cy="89.7" r="1.35"/>
<circle cx="117.3" cy="91.9" r="1.35"/>
<circle cx="134.1" cy="90.4" r="1.35"/>
<circle cx="138.6" cy="95.5" r="1.35"/>
<circle cx="122.5" cy="94.8" r="1.35"/>
<circle cx="158.1" cy="86.3" r="1.35"/>
<circle cx="161.0" cy="91.0" r="1.35"/>
<circle cx="159.4" cy="96.0" r="1.35"/>
<circle cx="158.1" cy="96.4" r="1.35"/>
<circle cx="167.7" cy="97.8" r="1.35"/>
<circle cx="121.8" cy="102.7" r="1.35"/>
<circle cx="121.1" cy="104.2" r="1.35"/>
<circle cx="146.4" cy="110.3" r="1.35"/>
<circle cx="169.2" cy="106.5" r="1.35"/>
<circle cx="165.9" cy="113.9" r="1.35"/>
<circle cx="121.8" cy="121.0" r="1.35"/>
<circle cx="129.2" cy="121.7" r="1.35"/>
<circle cx="128.5" cy="123.3" r="1.35"/>
<circle cx="135.9" cy="119.9" r="1.35"/>
<circle cx="159.8" cy="118.8" r="1.35"/>
<circle cx="158.7" cy="122.4" r="1.35"/>
<circle cx="169.9" cy="121.3" r="1.35"/>
<circle cx="123.6" cy="136.7" r="1.35"/>
<circle cx="124.5" cy="140.1" r="1.35"/>
<circle cx="141.5" cy="140.3" r="1.35"/>
<circle cx="115.7" cy="146.8" r="1.35"/>
<circle cx="166.6" cy="146.8" r="1.35"/>
<circle cx="191.2" cy="50.1" r="1.35"/>
<circle cx="195.2" cy="47.8" r="1.35"/>
<circle cx="195.2" cy="49.4" r="1.35"/>
<circle cx="214.0" cy="44.9" r="1.35"/>
<circle cx="212.5" cy="49.0" r="1.35"/>
<circle cx="237.1" cy="49.4" r="1.35"/>
<circle cx="238.9" cy="50.7" r="1.35"/>
<circle cx="184.5" cy="55.2" r="1.35"/>
<circle cx="187.8" cy="53.9" r="1.35"/>
<circle cx="190.1" cy="55.7" r="1.35"/>
<circle cx="191.2" cy="53.0" r="1.35"/>
<circle cx="189.6" cy="59.0" r="1.35"/>
<circle cx="190.7" cy="60.6" r="1.35"/>
<circle cx="196.8" cy="56.1" r="1.35"/>
<circle cx="200.1" cy="54.6" r="1.35"/>
<circle cx="201.3" cy="57.5" r="1.35"/>
<circle cx="204.6" cy="55.7" r="1.35"/>
<circle cx="206.9" cy="53.4" r="1.35"/>
<circle cx="208.4" cy="56.1" r="1.35"/>
<circle cx="210.2" cy="54.6" r="1.35"/>
<circle cx="206.9" cy="59.7" r="1.35"/>
<circle cx="209.1" cy="62.4" r="1.35"/>
<circle cx="212.0" cy="59.0" r="1.35"/>
<circle cx="214.7" cy="60.6" r="1.35"/>
<circle cx="216.9" cy="57.9" r="1.35"/>
<circle cx="214.0" cy="53.4" r="1.35"/>
<circle cx="219.2" cy="55.7" r="1.35"/>
<circle cx="221.0" cy="53.4" r="1.35"/>
<circle cx="221.9" cy="56.8" r="1.35"/>
<circle cx="220.3" cy="59.7" r="1.35"/>
<circle cx="223.6" cy="57.9" r="1.35"/>
<circle cx="225.9" cy="56.1" r="1.35"/>
<circle cx="228.1" cy="58.4" r="1.35"/>
<circle cx="230.4" cy="55.7" r="1.35"/>
<circle cx="232.6" cy="56.8" r="1.35"/>
<circle cx="236.0" cy="55.7" r="1.35"/>
<circle cx="239.3" cy="55.2" r="1.35"/>
<circle cx="240.4" cy="60.1" r="1.35"/>
<circle cx="239.3" cy="63.5" r="1.35"/>
<circle cx="201.3" cy="66.4" r="1.35"/>
<circle cx="205.3" cy="65.1" r="1.35"/>
<circle cx="219.2" cy="66.4" r="1.35"/>
<circle cx="223.0" cy="67.3" r="1.35"/>
<circle cx="234.2" cy="70.2" r="1.35"/>
<circle cx="212.9" cy="68.7" r="1.35"/>
<circle cx="195.0" cy="93.7" r="1.35"/>
<circle cx="212.9" cy="92.6" r="1.35"/>
<circle cx="325.2" cy="65.7" r="1.35"/>
<circle cx="307.9" cy="73.6" r="1.35"/>
<circle cx="312.9" cy="72.9" r="1.35"/>
<circle cx="318.9" cy="71.8" r="1.35"/>
<circle cx="341.3" cy="74.0" r="1.35"/>
<circle cx="349.4" cy="78.5" r="1.35"/>
<circle cx="326.3" cy="79.2" r="1.35"/>
<circle cx="329.7" cy="83.0" r="1.35"/>
<circle cx="338.6" cy="80.7" r="1.35"/>
<circle cx="342.0" cy="83.0" r="1.35"/>
<circle cx="352.5" cy="87.0" r="1.35"/>
<circle cx="321.4" cy="87.7" r="1.35"/>
<circle cx="336.4" cy="88.8" r="1.35"/>
<circle cx="309.5" cy="100.4" r="1.35"/>
<circle cx="330.8" cy="100.9" r="1.35"/>
<circle cx="339.7" cy="103.8" r="1.35"/>
<circle cx="339.1" cy="109.4" r="1.35"/>
<circle cx="302.8" cy="111.6" r="1.35"/>
<circle cx="302.8" cy="113.9" r="1.35"/>
<circle cx="325.2" cy="111.2" r="1.35"/>
<circle cx="308.4" cy="118.4" r="1.35"/>
<circle cx="311.3" cy="117.2" r="1.35"/>
<circle cx="311.7" cy="118.4" r="1.35"/>
<circle cx="327.0" cy="119.0" r="1.35"/>
<circle cx="352.0" cy="118.4" r="1.35"/>
<circle cx="316.9" cy="122.4" r="1.35"/>
<circle cx="321.4" cy="121.0" r="1.35"/>
<circle cx="324.5" cy="122.4" r="1.35"/>
<circle cx="350.5" cy="123.3" r="1.35"/>
<circle cx="355.8" cy="122.4" r="1.35"/>
<circle cx="353.2" cy="126.2" r="1.35"/>
<circle cx="333.0" cy="129.5" r="1.35"/>
<circle cx="340.4" cy="131.8" r="1.35"/>
<circle cx="310.2" cy="132.2" r="1.35"/>
<circle cx="334.8" cy="135.8" r="1.35"/>
<circle cx="390.1" cy="66.4" r="1.35"/>
<circle cx="390.1" cy="68.4" r="1.35"/>
<circle cx="384.5" cy="70.2" r="1.35"/>
<circle cx="404.0" cy="68.4" r="1.35"/>
<circle cx="416.5" cy="66.9" r="1.35"/>
<circle cx="417.4" cy="74.7" r="1.35"/>
<circle cx="415.4" cy="76.9" r="1.35"/>
<circle cx="418.8" cy="77.6" r="1.35"/>
<circle cx="421.9" cy="78.5" r="1.35"/>
<circle cx="420.3" cy="80.3" r="1.35"/>
<circle cx="414.7" cy="81.4" r="1.35"/>
<circle cx="425.9" cy="80.3" r="1.35"/>
<circle cx="372.2" cy="84.1" r="1.35"/>
<circle cx="396.4" cy="85.9" r="1.35"/>
<circle cx="399.1" cy="88.1" r="1.35"/>
<circle cx="387.9" cy="95.3" r="1.35"/>
<circle cx="395.0" cy="103.8" r="1.35"/>
<circle cx="389.6" cy="108.7" r="1.35"/>
<circle cx="423.0" cy="106.5" r="1.35"/>
<circle cx="421.9" cy="110.5" r="1.35"/>
<circle cx="416.3" cy="117.2" r="1.35"/>
<circle cx="381.6" cy="124.6" r="1.35"/>
<circle cx="371.1" cy="132.2" r="1.35"/>
<circle cx="380.0" cy="131.8" r="1.35"/>
<circle cx="396.1" cy="131.8" r="1.35"/>
<circle cx="393.5" cy="135.6" r="1.35"/>
<circle cx="405.3" cy="135.6" r="1.35"/>
<circle cx="386.3" cy="139.6" r="1.35"/>
<circle cx="401.3" cy="140.1" r="1.35"/>
<circle cx="417.4" cy="139.6" r="1.35"/>
<circle cx="390.1" cy="147.5" r="1.35"/>
<circle cx="449.5" cy="44.5" r="1.35"/>
<circle cx="496.5" cy="43.7" r="1.35"/>
<circle cx="443.2" cy="49.3" r="1.35"/>
<circle cx="447.0" cy="50.8" r="1.35"/>
<circle cx="451.0" cy="49.7" r="1.35"/>
<circle cx="454.5" cy="47.2" r="1.35"/>
<circle cx="456.4" cy="49.3" r="1.35"/>
<circle cx="458.7" cy="50.8" r="1.35"/>
<circle cx="460.5" cy="50.2" r="1.35"/>
<circle cx="462.0" cy="51.2" r="1.35"/>
<circle cx="457.5" cy="53.2" r="1.35"/>
<circle cx="459.7" cy="53.8" r="1.35"/>
<circle cx="468.0" cy="48.2" r="1.35"/>
<circle cx="471.7" cy="50.5" r="1.35"/>
<circle cx="468.7" cy="52.7" r="1.35"/>
<circle cx="472.5" cy="53.2" r="1.35"/>
<circle cx="480.0" cy="51.7" r="1.35"/>
<circle cx="484.5" cy="50.2" r="1.35"/>
<circle cx="486.7" cy="49.3" r="1.35"/>
<circle cx="485.5" cy="52.0" r="1.35"/>
<circle cx="493.5" cy="52.3" r="1.35"/>
<circle cx="497.2" cy="54.2" r="1.35"/>
<circle cx="491.7" cy="55.7" r="1.35"/>
<circle cx="444.0" cy="55.0" r="1.35"/>
<circle cx="451.5" cy="56.2" r="1.35"/>
<circle cx="462.7" cy="55.0" r="1.35"/>
<circle cx="466.5" cy="55.7" r="1.35"/>
<circle cx="480.7" cy="55.0" r="1.35"/>
<circle cx="483.7" cy="55.7" r="1.35"/>
<circle cx="488.2" cy="56.2" r="1.35"/>
<circle cx="456.7" cy="58.3" r="1.35"/>
<circle cx="459.0" cy="59.5" r="1.35"/>
<circle cx="468.0" cy="59.5" r="1.35"/>
<circle cx="477.7" cy="58.7" r="1.35"/>
<circle cx="479.2" cy="60.2" r="1.35"/>
<circle cx="481.5" cy="62.2" r="1.35"/>
<circle cx="487.5" cy="59.5" r="1.35"/>
<circle cx="495.0" cy="59.2" r="1.35"/>
<circle cx="495.7" cy="61.7" r="1.35"/>
<circle cx="441.0" cy="59.2" r="1.35"/>
<circle cx="444.7" cy="60.2" r="1.35"/>
<circle cx="457.5" cy="63.2" r="1.35"/>
<circle cx="461.2" cy="63.7" r="1.35"/>
<circle cx="467.2" cy="62.5" r="1.35"/>
<circle cx="473.2" cy="65.8" r="1.35"/>
<circle cx="488.2" cy="63.2" r="1.35"/>
<circle cx="444.0" cy="64.7" r="1.35"/>
<circle cx="445.5" cy="63.7" r="1.35"/>
<circle cx="454.5" cy="68.8" r="1.35"/>
<circle cx="459.3" cy="67.7" r="1.35"/>
<circle cx="462.3" cy="70.3" r="1.35"/>
<circle cx="461.7" cy="96.2" r="1.35"/>
<circle cx="469.2" cy="95.2" r="1.35"/>
<circle cx="562.7" cy="67.3" r="1.35"/>
<circle cx="593.3" cy="69.6" r="1.35"/>
<circle cx="611.5" cy="74.3" r="1.35"/>
<circle cx="615.7" cy="85.4" r="1.35"/>
<circle cx="566.0" cy="107.2" r="1.35"/>
<circle cx="570.5" cy="108.3" r="1.35"/>
<circle cx="579.5" cy="106.5" r="1.35"/>
<circle cx="560.4" cy="111.2" r="1.35"/>
<circle cx="563.8" cy="113.9" r="1.35"/>
<circle cx="587.3" cy="110.5" r="1.35"/>
<circle cx="607.9" cy="111.2" r="1.35"/>
<circle cx="562.0" cy="117.9" r="1.35"/>
<circle cx="567.1" cy="116.1" r="1.35"/>
<circle cx="568.3" cy="118.8" r="1.35"/>
<circle cx="587.7" cy="116.8" r="1.35"/>
<circle cx="595.8" cy="116.6" r="1.35"/>
<circle cx="562.7" cy="127.8" r="1.35"/>
<circle cx="568.9" cy="130.0" r="1.35"/>
<circle cx="572.7" cy="126.2" r="1.35"/>
<circle cx="573.9" cy="125.1" r="1.35"/>
<circle cx="572.7" cy="132.2" r="1.35"/>
<circle cx="579.5" cy="132.2" r="1.35"/>
<circle cx="580.6" cy="135.6" r="1.35"/>
<circle cx="591.1" cy="126.2" r="1.35"/>
<circle cx="590.7" cy="132.2" r="1.35"/>
<circle cx="594.7" cy="132.2" r="1.35"/>
<circle cx="596.7" cy="128.0" r="1.35"/>
<circle cx="604.1" cy="132.2" r="1.35"/>
<circle cx="607.0" cy="130.7" r="1.35"/>
<circle cx="608.6" cy="132.2" r="1.35"/>
<circle cx="610.8" cy="130.0" r="1.35"/>
<circle cx="568.3" cy="140.1" r="1.35"/>
<circle cx="576.1" cy="140.1" r="1.35"/>
<circle cx="638.3" cy="61.7" r="1.35"/>
<circle cx="645.5" cy="64.2" r="1.35"/>
<circle cx="639.5" cy="70.2" r="1.35"/>
<circle cx="672.8" cy="65.7" r="1.35"/>
<circle cx="636.5" cy="79.2" r="1.35"/>
<circle cx="637.2" cy="85.4" r="1.35"/>
<circle cx="648.9" cy="81.9" r="1.35"/>
<circle cx="659.6" cy="78.1" r="1.35"/>
<circle cx="665.0" cy="83.2" r="1.35"/>
<circle cx="673.9" cy="82.5" r="1.35"/>
<circle cx="676.8" cy="75.8" r="1.35"/>
<circle cx="677.5" cy="78.5" r="1.35"/>
<circle cx="680.6" cy="78.1" r="1.35"/>
<circle cx="674.6" cy="88.1" r="1.35"/>
<circle cx="652.7" cy="93.3" r="1.35"/>
<circle cx="684.0" cy="98.9" r="1.35"/>
<circle cx="649.3" cy="106.5" r="1.35"/>
<circle cx="643.9" cy="119.5" r="1.35"/>
<circle cx="643.3" cy="124.6" r="1.35"/>
<circle cx="684.7" cy="128.0" r="1.35"/>
<circle cx="639.5" cy="139.6" r="1.35"/>
<circle cx="651.5" cy="139.6" r="1.35"/>
<circle cx="654.5" cy="139.6" r="1.35"/>
<circle cx="658.9" cy="139.6" r="1.35"/>
<circle cx="654.0" cy="135.6" r="1.35"/>
<circle cx="673.5" cy="139.6" r="1.35"/>
<circle cx="676.8" cy="139.6" r="1.35"/>
<circle cx="685.8" cy="139.6" r="1.35"/>
<circle cx="631.6" cy="147.5" r="1.35"/>
<circle cx="639.5" cy="147.5" r="1.35"/>
<circle cx="643.3" cy="147.5" r="1.35"/>
<circle cx="665.0" cy="147.5" r="1.35"/>
<circle cx="705.0" cy="43.8" r="1.35"/>
<circle cx="720.7" cy="44.5" r="1.35"/>
<circle cx="735.7" cy="46.1" r="1.35"/>
<circle cx="757.3" cy="46.3" r="1.35"/>
<circle cx="702.1" cy="49.0" r="1.35"/>
<circle cx="703.5" cy="51.7" r="1.35"/>
<circle cx="706.1" cy="51.2" r="1.35"/>
<circle cx="726.8" cy="50.1" r="1.35"/>
<circle cx="745.4" cy="51.2" r="1.35"/>
<circle cx="714.0" cy="53.9" r="1.35"/>
<circle cx="716.9" cy="54.6" r="1.35"/>
<circle cx="719.2" cy="53.5" r="1.35"/>
<circle cx="723.0" cy="53.9" r="1.35"/>
<circle cx="709.5" cy="56.8" r="1.35"/>
<circle cx="712.9" cy="56.1" r="1.35"/>
<circle cx="703.9" cy="57.5" r="1.35"/>
<circle cx="729.0" cy="56.8" r="1.35"/>
<circle cx="731.3" cy="57.9" r="1.35"/>
<circle cx="737.5" cy="59.1" r="1.35"/>
<circle cx="740.5" cy="55.7" r="1.35"/>
<circle cx="743.8" cy="53.9" r="1.35"/>
<circle cx="744.7" cy="56.1" r="1.35"/>
<circle cx="753.7" cy="56.1" r="1.35"/>
<circle cx="712.9" cy="59.7" r="1.35"/>
<circle cx="715.1" cy="61.3" r="1.35"/>
<circle cx="719.6" cy="60.6" r="1.35"/>
<circle cx="724.1" cy="61.3" r="1.35"/>
<circle cx="743.1" cy="60.2" r="1.35"/>
<circle cx="746.5" cy="59.1" r="1.35"/>
<circle cx="752.1" cy="62.4" r="1.35"/>
<circle cx="755.5" cy="61.3" r="1.35"/>
<circle cx="756.6" cy="63.5" r="1.35"/>
<circle cx="729.7" cy="66.9" r="1.35"/>
<circle cx="740.5" cy="69.1" r="1.35"/>
<circle cx="742.0" cy="68.0" r="1.35"/>
<circle cx="739.1" cy="72.5" r="1.35"/>
<circle cx="748.3" cy="69.6" r="1.35"/>
<circle cx="755.0" cy="69.6" r="1.35"/>
<circle cx="757.0" cy="70.9" r="1.35"/>
<circle cx="712.2" cy="76.3" r="1.35"/>
<circle cx="719.6" cy="100.1" r="1.35"/>
<circle cx="743.8" cy="107.9" r="1.35"/>
<circle cx="723.6" cy="122.3" r="1.35"/>
<circle cx="715.6" cy="135.7" r="1.35"/>
<circle cx="730.1" cy="135.3" r="1.35"/>
<circle cx="48.4" cy="240.9" r="1.35"/>
<circle cx="55.5" cy="247.0" r="1.35"/>
<circle cx="61.4" cy="265.4" r="1.35"/>
<circle cx="71.7" cy="263.8" r="1.35"/>
<circle cx="70.7" cy="266.0" r="1.35"/>
<circle cx="80.4" cy="260.6" r="1.35"/>
<circle cx="59.4" cy="275.5" r="1.35"/>
<circle cx="92.3" cy="271.4" r="1.35"/>
<circle cx="92.9" cy="273.6" r="1.35"/>
<circle cx="99.2" cy="276.8" r="1.35"/>
<circle cx="65.3" cy="282.0" r="1.35"/>
<circle cx="68.1" cy="288.0" r="1.35"/>
<circle cx="58.8" cy="293.0" r="1.35"/>
<circle cx="64.2" cy="296.7" r="1.35"/>
<circle cx="89.0" cy="293.0" r="1.35"/>
<circle cx="99.8" cy="293.0" r="1.35"/>
<circle cx="51.6" cy="301.4" r="1.35"/>
<circle cx="67.0" cy="301.4" r="1.35"/>
<circle cx="82.1" cy="301.4" r="1.35"/>
<circle cx="90.8" cy="301.4" r="1.35"/>
<circle cx="100.9" cy="301.4" r="1.35"/>
<circle cx="57.7" cy="310.3" r="1.35"/>
<circle cx="62.0" cy="310.3" r="1.35"/>
<circle cx="70.7" cy="310.3" r="1.35"/>
<circle cx="79.3" cy="310.3" r="1.35"/>
<circle cx="83.6" cy="310.3" r="1.35"/>
<circle cx="85.8" cy="310.3" r="1.35"/>
<circle cx="93.4" cy="310.3" r="1.35"/>
<circle cx="96.6" cy="310.3" r="1.35"/>
<circle cx="99.8" cy="310.3" r="1.35"/>
<circle cx="129.4" cy="262.5" r="1.35"/>
<circle cx="150.2" cy="279.8" r="1.35"/>
<circle cx="160.8" cy="282.0" r="1.35"/>
<circle cx="164.0" cy="283.3" r="1.35"/>
<circle cx="167.9" cy="286.3" r="1.35"/>
<circle cx="136.6" cy="286.3" r="1.35"/>
<circle cx="128.6" cy="301.4" r="1.35"/>
<circle cx="136.1" cy="301.4" r="1.35"/>
<circle cx="147.0" cy="301.4" r="1.35"/>
<circle cx="148.5" cy="301.4" r="1.35"/>
<circle cx="118.2" cy="310.3" r="1.35"/>
<circle cx="119.8" cy="310.3" r="1.35"/>
<circle cx="119.9" cy="310.3" r="1.35"/>
<circle cx="121.0" cy="310.3" r="1.35"/>
<circle cx="124.6" cy="310.3" r="1.35"/>
<circle cx="127.2" cy="310.3" r="1.35"/>
<circle cx="128.7" cy="310.3" r="1.35"/>
<circle cx="133.5" cy="310.3" r="1.35"/>
<circle cx="134.2" cy="310.3" r="1.35"/>
<circle cx="134.6" cy="310.3" r="1.35"/>
<circle cx="138.9" cy="310.3" r="1.35"/>
<circle cx="145.3" cy="310.3" r="1.35"/>
<circle cx="150.3" cy="310.3" r="1.35"/>
<circle cx="154.8" cy="310.3" r="1.35"/>
<circle cx="158.1" cy="310.3" r="1.35"/>
<circle cx="160.3" cy="310.3" r="1.35"/>
<circle cx="160.3" cy="310.3" r="1.35"/>
<circle cx="166.2" cy="310.3" r="1.35"/>
<circle cx="166.4" cy="310.3" r="1.35"/>
<circle cx="172.3" cy="310.3" r="1.35"/>
<circle cx="207.5" cy="210.9" r="1.35"/>
<circle cx="224.8" cy="210.9" r="1.35"/>
<circle cx="191.3" cy="216.7" r="1.35"/>
<circle cx="238.4" cy="216.3" r="1.35"/>
<circle cx="221.2" cy="218.2" r="1.35"/>
<circle cx="201.7" cy="226.9" r="1.35"/>
<circle cx="204.3" cy="228.6" r="1.35"/>
<circle cx="205.0" cy="230.3" r="1.35"/>
<circle cx="207.8" cy="229.7" r="1.35"/>
<circle cx="211.0" cy="224.7" r="1.35"/>
<circle cx="212.5" cy="223.8" r="1.35"/>
<circle cx="217.3" cy="230.3" r="1.35"/>
<circle cx="207.1" cy="234.0" r="1.35"/>
<circle cx="192.0" cy="239.4" r="1.35"/>
<circle cx="208.2" cy="239.4" r="1.35"/>
<circle cx="233.7" cy="239.0" r="1.35"/>
<circle cx="237.4" cy="244.8" r="1.35"/>
<circle cx="190.3" cy="247.6" r="1.35"/>
<circle cx="198.0" cy="248.0" r="1.35"/>
<circle cx="209.7" cy="245.9" r="1.35"/>
<circle cx="229.1" cy="245.9" r="1.35"/>
<circle cx="230.4" cy="247.0" r="1.35"/>
<circle cx="209.3" cy="256.2" r="1.35"/>
<circle cx="200.0" cy="258.8" r="1.35"/>
<circle cx="217.3" cy="259.9" r="1.35"/>
<circle cx="220.7" cy="258.8" r="1.35"/>
<circle cx="234.1" cy="257.1" r="1.35"/>
<circle cx="232.0" cy="279.8" r="1.35"/>
<circle cx="191.3" cy="284.3" r="1.35"/>
<circle cx="189.4" cy="288.4" r="1.35"/>
<circle cx="206.0" cy="283.0" r="1.35"/>
<circle cx="207.5" cy="281.9" r="1.35"/>
<circle cx="209.9" cy="286.3" r="1.35"/>
<circle cx="230.2" cy="286.3" r="1.35"/>
<circle cx="212.5" cy="293.4" r="1.35"/>
<circle cx="213.6" cy="296.0" r="1.35"/>
<circle cx="230.9" cy="293.4" r="1.35"/>
<circle cx="195.9" cy="296.6" r="1.35"/>
<circle cx="203.4" cy="296.6" r="1.35"/>
<circle cx="226.6" cy="296.6" r="1.35"/>
<circle cx="240.6" cy="296.0" r="1.35"/>
<circle cx="198.9" cy="301.4" r="1.35"/>
<circle cx="214.0" cy="301.4" r="1.35"/>
<circle cx="239.9" cy="301.4" r="1.35"/>
<circle cx="188.3" cy="310.3" r="1.35"/>
<circle cx="188.5" cy="310.3" r="1.35"/>
<circle cx="196.9" cy="310.3" r="1.35"/>
<circle cx="197.8" cy="310.3" r="1.35"/>
<circle cx="198.8" cy="310.3" r="1.35"/>
<circle cx="199.5" cy="310.3" r="1.35"/>
<circle cx="202.1" cy="310.3" r="1.35"/>
<circle cx="205.6" cy="310.3" r="1.35"/>
<circle cx="209.9" cy="310.3" r="1.35"/>
<circle cx="213.0" cy="310.3" r="1.35"/>
<circle cx="217.2" cy="310.3" r="1.35"/>
<circle cx="223.9" cy="310.3" r="1.35"/>
<circle cx="226.7" cy="310.3" r="1.35"/>
<circle cx="230.2" cy="310.3" r="1.35"/>
<circle cx="230.3" cy="310.3" r="1.35"/>
<circle cx="232.7" cy="310.3" r="1.35"/>
<circle cx="306.9" cy="298.2" r="1.35"/>
<circle cx="314.0" cy="298.2" r="1.35"/>
<circle cx="322.7" cy="298.2" r="1.35"/>
<circle cx="328.5" cy="298.2" r="1.35"/>
<circle cx="332.8" cy="298.2" r="1.35"/>
<circle cx="338.2" cy="298.2" r="1.35"/>
<circle cx="343.0" cy="298.2" r="1.35"/>
<circle cx="353.2" cy="298.2" r="1.35"/>
<circle cx="347.8" cy="273.1" r="1.35"/>
<circle cx="328.9" cy="273.1" r="1.35"/>
<circle cx="301.0" cy="312.6" r="1.35"/>
<circle cx="301.1" cy="312.6" r="1.35"/>
<circle cx="304.4" cy="312.6" r="1.35"/>
<circle cx="306.9" cy="312.6" r="1.35"/>
<circle cx="308.5" cy="312.6" r="1.35"/>
<circle cx="309.9" cy="312.6" r="1.35"/>
<circle cx="312.7" cy="312.6" r="1.35"/>
<circle cx="316.0" cy="312.6" r="1.35"/>
<circle cx="316.3" cy="312.6" r="1.35"/>
<circle cx="316.6" cy="312.6" r="1.35"/>
<circle cx="316.9" cy="312.6" r="1.35"/>
<circle cx="321.8" cy="312.6" r="1.35"/>
<circle cx="322.8" cy="312.6" r="1.35"/>
<circle cx="328.4" cy="312.6" r="1.35"/>
<circle cx="332.2" cy="312.6" r="1.35"/>
<circle cx="333.8" cy="312.6" r="1.35"/>
<circle cx="334.2" cy="312.6" r="1.35"/>
<circle cx="337.4" cy="312.6" r="1.35"/>
<circle cx="341.6" cy="312.6" r="1.35"/>
<circle cx="344.6" cy="312.6" r="1.35"/>
<circle cx="345.8" cy="312.6" r="1.35"/>
<circle cx="347.9" cy="312.6" r="1.35"/>
<circle cx="347.9" cy="312.6" r="1.35"/>
<circle cx="350.9" cy="312.6" r="1.35"/>
<circle cx="351.2" cy="312.6" r="1.35"/>
<circle cx="352.9" cy="312.6" r="1.35"/>
<circle cx="388.4" cy="298.2" r="1.35"/>
<circle cx="399.0" cy="298.2" r="1.35"/>
<circle cx="425.6" cy="260.6" r="1.35"/>
<circle cx="399.0" cy="260.0" r="1.35"/>
<circle cx="378.7" cy="312.5" r="1.35"/>
<circle cx="382.6" cy="312.5" r="1.35"/>
<circle cx="385.5" cy="312.5" r="1.35"/>
<circle cx="387.4" cy="312.5" r="1.35"/>
<circle cx="394.1" cy="312.5" r="1.35"/>
<circle cx="399.0" cy="312.5" r="1.35"/>
<circle cx="400.9" cy="312.5" r="1.35"/>
<circle cx="406.7" cy="312.5" r="1.35"/>
<circle cx="409.6" cy="312.5" r="1.35"/>
<circle cx="416.7" cy="312.5" r="1.35"/>
<circle cx="421.2" cy="312.5" r="1.35"/>
<circle cx="425.0" cy="312.5" r="1.35"/>
<circle cx="456.2" cy="211.5" r="1.35"/>
<circle cx="471.3" cy="212.0" r="1.35"/>
<circle cx="474.2" cy="217.3" r="1.35"/>
<circle cx="488.6" cy="226.4" r="1.35"/>
<circle cx="487.9" cy="251.1" r="1.35"/>
<circle cx="488.6" cy="255.7" r="1.35"/>
<circle cx="497.0" cy="255.9" r="1.35"/>
<circle cx="497.7" cy="262.4" r="1.35"/>
<circle cx="445.9" cy="258.1" r="1.35"/>
<circle cx="467.0" cy="258.1" r="1.35"/>
<circle cx="468.7" cy="272.0" r="1.35"/>
<circle cx="450.7" cy="286.9" r="1.35"/>
<circle cx="461.7" cy="283.3" r="1.35"/>
<circle cx="467.5" cy="283.3" r="1.35"/>
<circle cx="456.9" cy="291.2" r="1.35"/>
<circle cx="457.9" cy="291.2" r="1.35"/>
<circle cx="474.2" cy="291.2" r="1.35"/>
<circle cx="483.3" cy="291.2" r="1.35"/>
<circle cx="496.3" cy="291.2" r="1.35"/>
<circle cx="446.6" cy="297.9" r="1.35"/>
<circle cx="474.2" cy="297.9" r="1.35"/>
<circle cx="480.2" cy="297.9" r="1.35"/>
<circle cx="481.4" cy="297.9" r="1.35"/>
<circle cx="488.6" cy="297.9" r="1.35"/>
<circle cx="491.0" cy="297.9" r="1.35"/>
<circle cx="495.3" cy="297.9" r="1.35"/>
<circle cx="452.6" cy="312.8" r="1.35"/>
<circle cx="456.6" cy="312.8" r="1.35"/>
<circle cx="457.9" cy="312.8" r="1.35"/>
<circle cx="460.7" cy="312.8" r="1.35"/>
<circle cx="461.2" cy="312.8" r="1.35"/>
<circle cx="461.4" cy="312.8" r="1.35"/>
<circle cx="463.3" cy="312.8" r="1.35"/>
<circle cx="463.6" cy="312.8" r="1.35"/>
<circle cx="464.4" cy="312.8" r="1.35"/>
<circle cx="471.6" cy="312.8" r="1.35"/>
<circle cx="472.0" cy="312.8" r="1.35"/>
<circle cx="473.0" cy="312.8" r="1.35"/>
<circle cx="478.2" cy="312.8" r="1.35"/>
<circle cx="479.6" cy="312.8" r="1.35"/>
<circle cx="480.1" cy="312.8" r="1.35"/>
<circle cx="481.5" cy="312.8" r="1.35"/>
<circle cx="486.5" cy="312.8" r="1.35"/>
<circle cx="488.9" cy="312.8" r="1.35"/>
<circle cx="489.2" cy="312.8" r="1.35"/>
<circle cx="492.1" cy="312.8" r="1.35"/>
<circle cx="493.8" cy="312.8" r="1.35"/>
<circle cx="494.0" cy="312.8" r="1.35"/>
<circle cx="591.3" cy="225.2" r="1.35"/>
<circle cx="582.2" cy="251.6" r="1.35"/>
<circle cx="573.1" cy="271.5" r="1.35"/>
<circle cx="596.6" cy="283.5" r="1.35"/>
<circle cx="573.1" cy="287.6" r="1.35"/>
<circle cx="570.2" cy="299.6" r="1.35"/>
<circle cx="587.7" cy="299.6" r="1.35"/>
<circle cx="595.4" cy="299.6" r="1.35"/>
<circle cx="606.2" cy="296.5" r="1.35"/>
<circle cx="611.5" cy="296.5" r="1.35"/>
<circle cx="560.6" cy="304.9" r="1.35"/>
<circle cx="563.7" cy="304.9" r="1.35"/>
<circle cx="609.3" cy="304.9" r="1.35"/>
<circle cx="565.6" cy="312.8" r="1.35"/>
<circle cx="565.8" cy="312.8" r="1.35"/>
<circle cx="568.4" cy="312.8" r="1.35"/>
<circle cx="569.8" cy="312.8" r="1.35"/>
<circle cx="575.2" cy="312.8" r="1.35"/>
<circle cx="577.9" cy="312.8" r="1.35"/>
<circle cx="580.3" cy="312.8" r="1.35"/>
<circle cx="580.3" cy="312.8" r="1.35"/>
<circle cx="582.3" cy="312.8" r="1.35"/>
<circle cx="582.8" cy="312.8" r="1.35"/>
<circle cx="584.4" cy="312.8" r="1.35"/>
<circle cx="584.9" cy="312.8" r="1.35"/>
<circle cx="589.2" cy="312.8" r="1.35"/>
<circle cx="591.3" cy="312.8" r="1.35"/>
<circle cx="592.8" cy="312.8" r="1.35"/>
<circle cx="593.0" cy="312.8" r="1.35"/>
<circle cx="598.7" cy="312.8" r="1.35"/>
<circle cx="599.6" cy="312.8" r="1.35"/>
<circle cx="607.5" cy="312.8" r="1.35"/>
<circle cx="609.5" cy="312.8" r="1.35"/>
<circle cx="633.3" cy="299.6" r="1.35"/>
<circle cx="635.7" cy="304.9" r="1.35"/>
<circle cx="641.5" cy="304.9" r="1.35"/>
<circle cx="650.6" cy="296.5" r="1.35"/>
<circle cx="659.5" cy="300.3" r="1.35"/>
<circle cx="659.5" cy="304.4" r="1.35"/>
<circle cx="639.1" cy="312.8" r="1.35"/>
<circle cx="639.7" cy="312.8" r="1.35"/>
<circle cx="640.1" cy="312.8" r="1.35"/>
<circle cx="644.7" cy="312.8" r="1.35"/>
<circle cx="644.7" cy="312.8" r="1.35"/>
<circle cx="645.5" cy="312.8" r="1.35"/>
<circle cx="646.2" cy="312.8" r="1.35"/>
<circle cx="647.1" cy="312.8" r="1.35"/>
<circle cx="658.8" cy="312.8" r="1.35"/>
<circle cx="660.2" cy="312.8" r="1.35"/>
<circle cx="661.4" cy="312.8" r="1.35"/>
<circle cx="673.8" cy="312.8" r="1.35"/>
<circle cx="675.2" cy="312.8" r="1.35"/>
<circle cx="675.6" cy="312.8" r="1.35"/>
<circle cx="676.9" cy="312.8" r="1.35"/>
<circle cx="682.0" cy="312.8" r="1.35"/>
<circle cx="684.6" cy="312.8" r="1.35"/>
<circle cx="687.7" cy="312.8" r="1.35"/>
<circle cx="720.1" cy="216.3" r="1.35"/>
<circle cx="730.9" cy="211.3" r="1.35"/>
<circle cx="739.1" cy="216.8" r="1.35"/>
<circle cx="748.2" cy="217.5" r="1.35"/>
<circle cx="752.5" cy="222.8" r="1.35"/>
<circle cx="739.3" cy="229.3" r="1.35"/>
<circle cx="715.8" cy="237.9" r="1.35"/>
<circle cx="735.0" cy="252.1" r="1.35"/>
<circle cx="729.0" cy="253.3" r="1.35"/>
<circle cx="738.1" cy="266.5" r="1.35"/>
<circle cx="709.1" cy="275.1" r="1.35"/>
<circle cx="715.3" cy="282.8" r="1.35"/>
<circle cx="705.7" cy="286.4" r="1.35"/>
<circle cx="722.3" cy="285.9" r="1.35"/>
<circle cx="718.9" cy="289.3" r="1.35"/>
<circle cx="705.0" cy="293.6" r="1.35"/>
<circle cx="732.1" cy="293.6" r="1.35"/>
<circle cx="713.9" cy="296.0" r="1.35"/>
<circle cx="739.3" cy="296.0" r="1.35"/>
<circle cx="753.5" cy="291.2" r="1.35"/>
<circle cx="701.9" cy="304.4" r="1.35"/>
<circle cx="706.7" cy="304.4" r="1.35"/>
<circle cx="712.2" cy="304.4" r="1.35"/>
<circle cx="717.0" cy="304.4" r="1.35"/>
<circle cx="721.3" cy="304.4" r="1.35"/>
<circle cx="729.0" cy="304.4" r="1.35"/>
<circle cx="733.8" cy="304.4" r="1.35"/>
<circle cx="709.3" cy="299.6" r="1.35"/>
<circle cx="723.0" cy="299.1" r="1.35"/>
<circle cx="741.0" cy="299.1" r="1.35"/>
<circle cx="745.3" cy="299.1" r="1.35"/>
<circle cx="741.5" cy="302.0" r="1.35"/>
<circle cx="707.4" cy="312.8" r="1.35"/>
<circle cx="711.2" cy="312.8" r="1.35"/>
<circle cx="712.2" cy="312.8" r="1.35"/>
<circle cx="713.1" cy="312.8" r="1.35"/>
<circle cx="714.3" cy="312.8" r="1.35"/>
<circle cx="719.5" cy="312.8" r="1.35"/>
<circle cx="720.6" cy="312.8" r="1.35"/>
<circle cx="723.1" cy="312.8" r="1.35"/>
<circle cx="723.7" cy="312.8" r="1.35"/>
<circle cx="726.0" cy="312.8" r="1.35"/>
<circle cx="738.8" cy="312.8" r="1.35"/>
<circle cx="742.7" cy="312.8" r="1.35"/>
<circle cx="743.1" cy="312.8" r="1.35"/>
<circle cx="743.5" cy="312.8" r="1.35"/>
<circle cx="745.9" cy="312.8" r="1.35"/>
<circle cx="747.0" cy="312.8" r="1.35"/>
<circle cx="749.3" cy="312.8" r="1.35"/>
<circle cx="749.9" cy="312.8" r="1.35"/>
<circle cx="750.0" cy="312.8" r="1.35"/>
<circle cx="750.9" cy="312.8" r="1.35"/>
<circle cx="751.2" cy="312.8" r="1.35"/>
<circle cx="755.9" cy="312.8" r="1.35"/>
<circle cx="49.4" cy="476.6" r="1.35"/>
<circle cx="54.9" cy="476.6" r="1.35"/>
<circle cx="57.1" cy="476.6" r="1.35"/>
<circle cx="58.0" cy="476.6" r="1.35"/>
<circle cx="58.6" cy="476.6" r="1.35"/>
<circle cx="60.9" cy="476.6" r="1.35"/>
<circle cx="64.2" cy="476.6" r="1.35"/>
<circle cx="64.9" cy="476.6" r="1.35"/>
<circle cx="69.7" cy="476.6" r="1.35"/>
<circle cx="69.9" cy="476.6" r="1.35"/>
<circle cx="71.6" cy="476.6" r="1.35"/>
<circle cx="76.1" cy="476.6" r="1.35"/>
<circle cx="76.1" cy="476.6" r="1.35"/>
<circle cx="78.9" cy="476.6" r="1.35"/>
<circle cx="78.9" cy="476.6" r="1.35"/>
<circle cx="88.1" cy="476.6" r="1.35"/>
<circle cx="91.0" cy="476.6" r="1.35"/>
<circle cx="93.7" cy="476.6" r="1.35"/>
<circle cx="93.7" cy="476.6" r="1.35"/>
<circle cx="94.9" cy="476.6" r="1.35"/>
<circle cx="98.7" cy="476.6" r="1.35"/>
<circle cx="100.0" cy="476.6" r="1.35"/>
<circle cx="100.5" cy="476.6" r="1.35"/>
<circle cx="101.4" cy="476.6" r="1.35"/>
<circle cx="102.1" cy="476.6" r="1.35"/>
<circle cx="102.8" cy="476.6" r="1.35"/>
<circle cx="122.3" cy="433.7" r="1.35"/>
<circle cx="121.2" cy="476.6" r="1.35"/>
<circle cx="122.0" cy="476.6" r="1.35"/>
<circle cx="131.1" cy="476.6" r="1.35"/>
<circle cx="131.8" cy="476.6" r="1.35"/>
<circle cx="133.4" cy="476.6" r="1.35"/>
<circle cx="140.1" cy="476.6" r="1.35"/>
<circle cx="142.4" cy="476.6" r="1.35"/>
<circle cx="147.3" cy="476.6" r="1.35"/>
<circle cx="151.0" cy="476.6" r="1.35"/>
<circle cx="156.9" cy="476.6" r="1.35"/>
<circle cx="157.2" cy="476.6" r="1.35"/>
<circle cx="157.6" cy="476.6" r="1.35"/>
<circle cx="159.2" cy="476.6" r="1.35"/>
<circle cx="159.5" cy="476.6" r="1.35"/>
<circle cx="163.8" cy="476.6" r="1.35"/>
<circle cx="164.6" cy="476.6" r="1.35"/>
<circle cx="193.3" cy="376.7" r="1.35"/>
<circle cx="213.3" cy="376.7" r="1.35"/>
<circle cx="226.0" cy="403.3" r="1.35"/>
<circle cx="239.3" cy="441.7" r="1.35"/>
<circle cx="187.5" cy="476.6" r="1.35"/>
<circle cx="187.7" cy="476.6" r="1.35"/>
<circle cx="190.9" cy="476.6" r="1.35"/>
<circle cx="193.5" cy="476.6" r="1.35"/>
<circle cx="195.0" cy="476.6" r="1.35"/>
<circle cx="196.8" cy="476.6" r="1.35"/>
<circle cx="198.9" cy="476.6" r="1.35"/>
<circle cx="198.9" cy="476.6" r="1.35"/>
<circle cx="199.1" cy="476.6" r="1.35"/>
<circle cx="201.8" cy="476.6" r="1.35"/>
<circle cx="205.1" cy="476.6" r="1.35"/>
<circle cx="206.7" cy="476.6" r="1.35"/>
<circle cx="206.9" cy="476.6" r="1.35"/>
<circle cx="208.4" cy="476.6" r="1.35"/>
<circle cx="213.2" cy="476.6" r="1.35"/>
<circle cx="214.5" cy="476.6" r="1.35"/>
<circle cx="215.9" cy="476.6" r="1.35"/>
<circle cx="216.6" cy="476.6" r="1.35"/>
<circle cx="218.2" cy="476.6" r="1.35"/>
<circle cx="220.6" cy="476.6" r="1.35"/>
<circle cx="221.4" cy="476.6" r="1.35"/>
<circle cx="222.5" cy="476.6" r="1.35"/>
<circle cx="223.9" cy="476.6" r="1.35"/>
<circle cx="226.4" cy="476.6" r="1.35"/>
<circle cx="228.2" cy="476.6" r="1.35"/>
<circle cx="235.6" cy="476.6" r="1.35"/>
<circle cx="237.4" cy="476.6" r="1.35"/>
<circle cx="238.9" cy="476.6" r="1.35"/>
<circle cx="240.5" cy="476.6" r="1.35"/>
<circle cx="240.7" cy="476.6" r="1.35"/>
<circle cx="213.3" cy="403.3" r="0.90"/>
<circle cx="213.3" cy="441.7" r="0.90"/>
<circle cx="324.1" cy="391.9" r="1.35"/>
<circle cx="329.4" cy="400.3" r="1.35"/>
<circle cx="354.6" cy="403.7" r="1.35"/>
<circle cx="310.9" cy="406.8" r="1.35"/>
<circle cx="306.6" cy="410.4" r="1.35"/>
<circle cx="320.5" cy="407.3" r="1.35"/>
<circle cx="323.4" cy="411.6" r="1.35"/>
<circle cx="314.3" cy="418.1" r="1.35"/>
<circle cx="303.7" cy="421.7" r="1.35"/>
<circle cx="343.8" cy="429.6" r="1.35"/>
<circle cx="337.3" cy="437.5" r="1.35"/>
<circle cx="306.1" cy="444.0" r="1.35"/>
<circle cx="307.8" cy="447.6" r="1.35"/>
<circle cx="316.9" cy="450.0" r="1.35"/>
<circle cx="316.2" cy="454.1" r="1.35"/>
<circle cx="332.5" cy="456.0" r="1.35"/>
<circle cx="307.1" cy="457.9" r="1.35"/>
<circle cx="316.2" cy="457.9" r="1.35"/>
<circle cx="330.6" cy="460.8" r="1.35"/>
<circle cx="338.3" cy="460.8" r="1.35"/>
<circle cx="307.1" cy="464.4" r="1.35"/>
<circle cx="330.6" cy="464.4" r="1.35"/>
<circle cx="336.1" cy="464.4" r="1.35"/>
<circle cx="343.8" cy="464.4" r="1.35"/>
<circle cx="351.0" cy="464.4" r="1.35"/>
<circle cx="304.2" cy="469.7" r="1.35"/>
<circle cx="309.7" cy="469.7" r="1.35"/>
<circle cx="312.6" cy="469.7" r="1.35"/>
<circle cx="321.0" cy="469.7" r="1.35"/>
<circle cx="323.9" cy="469.7" r="1.35"/>
<circle cx="331.3" cy="469.7" r="1.35"/>
<circle cx="333.0" cy="469.7" r="1.35"/>
<circle cx="336.1" cy="469.7" r="1.35"/>
<circle cx="348.6" cy="469.7" r="1.35"/>
<circle cx="310.2" cy="477.6" r="1.35"/>
<circle cx="316.2" cy="477.6" r="1.35"/>
<circle cx="334.2" cy="477.6" r="1.35"/>
<circle cx="336.6" cy="477.6" r="1.35"/>
<circle cx="380.3" cy="397.2" r="1.35"/>
<circle cx="403.8" cy="403.2" r="1.35"/>
<circle cx="389.4" cy="410.9" r="1.35"/>
<circle cx="397.3" cy="413.3" r="1.35"/>
<circle cx="383.9" cy="420.7" r="1.35"/>
<circle cx="377.4" cy="424.3" r="1.35"/>
<circle cx="374.3" cy="427.2" r="1.35"/>
<circle cx="400.9" cy="424.3" r="1.35"/>
<circle cx="399.0" cy="427.2" r="1.35"/>
<circle cx="375.0" cy="443.5" r="1.35"/>
<circle cx="388.9" cy="464.4" r="1.35"/>
<circle cx="401.9" cy="461.3" r="1.35"/>
<circle cx="373.3" cy="469.7" r="1.35"/>
<circle cx="383.9" cy="469.7" r="1.35"/>
<circle cx="389.4" cy="469.7" r="1.35"/>
<circle cx="393.7" cy="469.7" r="1.35"/>
<circle cx="399.7" cy="469.7" r="1.35"/>
<circle cx="402.6" cy="469.7" r="1.35"/>
<circle cx="388.7" cy="477.6" r="1.35"/>
<circle cx="401.9" cy="477.6" r="1.35"/>
<circle cx="403.9" cy="403.2" r="1.35"/>
<circle cx="397.4" cy="413.3" r="1.35"/>
<circle cx="401.0" cy="424.3" r="1.35"/>
<circle cx="398.6" cy="427.2" r="1.35"/>
<circle cx="425.5" cy="382.8" r="1.35"/>
<circle cx="424.5" cy="396.7" r="1.35"/>
<circle cx="426.2" cy="426.0" r="1.35"/>
<circle cx="419.0" cy="449.5" r="1.35"/>
<circle cx="411.8" cy="457.9" r="1.35"/>
<circle cx="401.7" cy="461.3" r="1.35"/>
<circle cx="420.9" cy="461.3" r="1.35"/>
<circle cx="400.3" cy="469.7" r="1.35"/>
<circle cx="405.8" cy="469.7" r="1.35"/>
<circle cx="407.7" cy="469.7" r="1.35"/>
<circle cx="414.2" cy="469.7" r="1.35"/>
<circle cx="415.9" cy="469.7" r="1.35"/>
<circle cx="404.1" cy="477.6" r="1.35"/>
<circle cx="408.2" cy="477.6" r="1.35"/>
<circle cx="409.4" cy="477.6" r="1.35"/>
<circle cx="425.0" cy="477.6" r="1.35"/>
<circle cx="471.8" cy="376.1" r="1.35"/>
<circle cx="441.3" cy="389.3" r="1.35"/>
<circle cx="448.3" cy="394.8" r="1.35"/>
<circle cx="453.8" cy="396.5" r="1.35"/>
<circle cx="445.4" cy="400.3" r="1.35"/>
<circle cx="469.4" cy="397.9" r="1.35"/>
<circle cx="472.3" cy="395.5" r="1.35"/>
<circle cx="492.2" cy="396.0" r="1.35"/>
<circle cx="493.4" cy="396.7" r="1.35"/>
<circle cx="490.5" cy="403.2" r="1.35"/>
<circle cx="461.5" cy="414.7" r="1.35"/>
<circle cx="444.2" cy="416.4" r="1.35"/>
<circle cx="449.0" cy="426.0" r="1.35"/>
<circle cx="464.6" cy="429.1" r="1.35"/>
<circle cx="464.1" cy="444.0" r="1.35"/>
<circle cx="444.2" cy="456.0" r="1.35"/>
<circle cx="447.8" cy="455.3" r="1.35"/>
<circle cx="448.5" cy="454.3" r="1.35"/>
<circle cx="465.1" cy="451.9" r="1.35"/>
<circle cx="478.3" cy="452.4" r="1.35"/>
<circle cx="471.3" cy="454.3" r="1.35"/>
<circle cx="463.4" cy="456.7" r="1.35"/>
<circle cx="476.1" cy="458.4" r="1.35"/>
<circle cx="461.0" cy="459.6" r="1.35"/>
<circle cx="453.8" cy="457.9" r="1.35"/>
<circle cx="468.2" cy="460.8" r="1.35"/>
<circle cx="472.3" cy="460.8" r="1.35"/>
<circle cx="477.8" cy="460.8" r="1.35"/>
<circle cx="491.7" cy="460.8" r="1.35"/>
<circle cx="455.0" cy="463.9" r="1.35"/>
<circle cx="468.2" cy="464.4" r="1.35"/>
<circle cx="475.4" cy="464.4" r="1.35"/>
<circle cx="479.0" cy="464.4" r="1.35"/>
<circle cx="453.8" cy="469.7" r="1.35"/>
<circle cx="457.9" cy="469.7" r="1.35"/>
<circle cx="469.4" cy="469.7" r="1.35"/>
<circle cx="480.2" cy="469.7" r="1.35"/>
<circle cx="486.9" cy="469.7" r="1.35"/>
<circle cx="487.9" cy="469.7" r="1.35"/>
<circle cx="494.1" cy="469.7" r="1.35"/>
<circle cx="495.3" cy="469.7" r="1.35"/>
<circle cx="454.8" cy="477.6" r="1.35"/>
<circle cx="455.9" cy="477.6" r="1.35"/>
<circle cx="456.2" cy="477.6" r="1.35"/>
<circle cx="456.8" cy="477.6" r="1.35"/>
<circle cx="458.8" cy="477.6" r="1.35"/>
<circle cx="461.2" cy="477.6" r="1.35"/>
<circle cx="461.7" cy="477.6" r="1.35"/>
<circle cx="465.0" cy="477.6" r="1.35"/>
<circle cx="469.1" cy="477.6" r="1.35"/>
<circle cx="471.0" cy="477.6" r="1.35"/>
<circle cx="475.8" cy="477.6" r="1.35"/>
<circle cx="481.1" cy="477.6" r="1.35"/>
<circle cx="485.4" cy="477.6" r="1.35"/>
<circle cx="491.2" cy="477.6" r="1.35"/>
<circle cx="493.2" cy="477.6" r="1.35"/>
<circle cx="494.4" cy="477.6" r="1.35"/>
<circle cx="610.3" cy="401.3" r="1.35"/>
<circle cx="594.7" cy="425.5" r="1.35"/>
<circle cx="569.7" cy="427.7" r="1.35"/>
<circle cx="562.3" cy="439.7" r="1.35"/>
<circle cx="569.0" cy="442.1" r="1.35"/>
<circle cx="575.5" cy="437.3" r="1.35"/>
<circle cx="576.2" cy="438.0" r="1.35"/>
<circle cx="605.0" cy="437.3" r="1.35"/>
<circle cx="572.6" cy="445.7" r="1.35"/>
<circle cx="579.3" cy="442.8" r="1.35"/>
<circle cx="585.3" cy="441.1" r="1.35"/>
<circle cx="587.0" cy="442.8" r="1.35"/>
<circle cx="588.2" cy="442.1" r="1.35"/>
<circle cx="596.1" cy="441.6" r="1.35"/>
<circle cx="597.3" cy="441.1" r="1.35"/>
<circle cx="611.7" cy="442.3" r="1.35"/>
<circle cx="615.8" cy="441.1" r="1.35"/>
<circle cx="582.2" cy="447.6" r="1.35"/>
<circle cx="601.4" cy="451.2" r="1.35"/>
<circle cx="613.4" cy="449.5" r="1.35"/>
<circle cx="602.6" cy="454.3" r="1.35"/>
<circle cx="563.0" cy="455.5" r="1.35"/>
<circle cx="566.6" cy="455.5" r="1.35"/>
<circle cx="570.7" cy="454.3" r="1.35"/>
<circle cx="617.0" cy="455.5" r="1.35"/>
<circle cx="589.9" cy="461.5" r="1.35"/>
<circle cx="574.3" cy="463.9" r="1.35"/>
<circle cx="573.3" cy="466.1" r="1.35"/>
<circle cx="575.0" cy="466.8" r="1.35"/>
<circle cx="587.7" cy="466.3" r="1.35"/>
<circle cx="600.9" cy="463.7" r="1.35"/>
<circle cx="611.7" cy="463.2" r="1.35"/>
<circle cx="610.5" cy="466.8" r="1.35"/>
<circle cx="564.7" cy="470.4" r="1.35"/>
<circle cx="572.6" cy="477.1" r="1.35"/>
<circle cx="584.6" cy="477.1" r="1.35"/>
<circle cx="647.0" cy="378.5" r="1.35"/>
<circle cx="639.3" cy="382.3" r="1.35"/>
<circle cx="641.7" cy="382.3" r="1.35"/>
<circle cx="647.7" cy="382.8" r="1.35"/>
<circle cx="634.3" cy="390.7" r="1.35"/>
<circle cx="644.6" cy="393.6" r="1.35"/>
<circle cx="647.0" cy="396.7" r="1.35"/>
<circle cx="648.9" cy="399.6" r="1.35"/>
<circle cx="653.7" cy="389.3" r="1.35"/>
<circle cx="652.3" cy="391.7" r="1.35"/>
<circle cx="638.6" cy="414.7" r="1.35"/>
<circle cx="651.8" cy="429.6" r="1.35"/>
<circle cx="641.7" cy="442.8" r="1.35"/>
<circle cx="640.3" cy="448.8" r="1.35"/>
<circle cx="640.5" cy="454.3" r="1.35"/>
<circle cx="664.3" cy="448.3" r="1.35"/>
<circle cx="672.6" cy="376.1" r="1.35"/>
<circle cx="686.3" cy="377.3" r="1.35"/>
<circle cx="666.6" cy="381.1" r="1.35"/>
<circle cx="676.2" cy="382.1" r="1.35"/>
<circle cx="681.0" cy="387.6" r="1.35"/>
<circle cx="679.8" cy="390.0" r="1.35"/>
<circle cx="670.7" cy="390.7" r="1.35"/>
<circle cx="669.0" cy="394.8" r="1.35"/>
<circle cx="671.4" cy="396.7" r="1.35"/>
<circle cx="669.0" cy="399.1" r="1.35"/>
<circle cx="687.5" cy="400.8" r="1.35"/>
<circle cx="685.3" cy="402.5" r="1.35"/>
<circle cx="665.9" cy="406.3" r="1.35"/>
<circle cx="677.9" cy="410.4" r="1.35"/>
<circle cx="658.2" cy="429.1" r="1.35"/>
<circle cx="665.4" cy="448.3" r="1.35"/>
<circle cx="680.3" cy="444.7" r="1.35"/>
<circle cx="681.0" cy="449.3" r="1.35"/>
<circle cx="740.5" cy="394.3" r="1.35"/>
<circle cx="706.9" cy="404.4" r="1.35"/>
<circle cx="706.9" cy="408.7" r="1.35"/>
<circle cx="717.0" cy="414.0" r="1.35"/>
<circle cx="731.4" cy="411.1" r="1.35"/>
<circle cx="734.3" cy="411.6" r="1.35"/>
<circle cx="733.3" cy="415.7" r="1.35"/>
<circle cx="756.1" cy="421.2" r="1.35"/>
<circle cx="712.2" cy="422.9" r="1.35"/>
<circle cx="732.6" cy="427.7" r="1.35"/>
<circle cx="710.3" cy="431.5" r="1.35"/>
<circle cx="735.5" cy="434.9" r="1.35"/>
<circle cx="741.0" cy="436.3" r="1.35"/>
<circle cx="747.7" cy="439.7" r="1.35"/>
<circle cx="756.6" cy="441.1" r="1.35"/>
<circle cx="731.9" cy="442.1" r="1.35"/>
<circle cx="740.3" cy="444.0" r="1.35"/>
<circle cx="709.3" cy="442.8" r="1.35"/>
<circle cx="713.4" cy="440.9" r="1.35"/>
<circle cx="715.3" cy="440.9" r="1.35"/>
<circle cx="711.0" cy="444.7" r="1.35"/>
<circle cx="716.5" cy="444.0" r="1.35"/>
<circle cx="710.3" cy="446.9" r="1.35"/>
<circle cx="718.7" cy="447.6" r="1.35"/>
<circle cx="721.3" cy="449.5" r="1.35"/>
<circle cx="724.7" cy="448.8" r="1.35"/>
<circle cx="751.8" cy="447.6" r="1.35"/>
<circle cx="738.6" cy="450.7" r="1.35"/>
<circle cx="755.4" cy="451.2" r="1.35"/>
<circle cx="738.6" cy="454.8" r="1.35"/>
<circle cx="735.0" cy="456.7" r="1.35"/>
<circle cx="740.5" cy="461.5" r="1.35"/>
<circle cx="742.2" cy="461.5" r="1.35"/>
<circle cx="733.8" cy="463.2" r="1.35"/>
<circle cx="744.6" cy="466.3" r="1.35"/>
<circle cx="722.3" cy="470.4" r="1.35"/>
<circle cx="740.3" cy="470.4" r="1.35"/>
<circle cx="708.5" cy="477.3" r="1.35"/>
<circle cx="710.7" cy="477.3" r="1.35"/>
<circle cx="711.2" cy="477.3" r="1.35"/>
<circle cx="723.6" cy="477.3" r="1.35"/>
<circle cx="725.0" cy="477.3" r="1.35"/>
<circle cx="728.5" cy="477.3" r="1.35"/>
<circle cx="734.1" cy="477.3" r="1.35"/>
<circle cx="734.3" cy="477.3" r="1.35"/>
<circle cx="734.7" cy="477.3" r="1.35"/>
<circle cx="736.1" cy="477.3" r="1.35"/>
<circle cx="736.4" cy="477.3" r="1.35"/>
<circle cx="737.1" cy="477.3" r="1.35"/>
<circle cx="739.8" cy="477.3" r="1.35"/>
<circle cx="741.9" cy="477.3" r="1.35"/>
<circle cx="743.6" cy="477.3" r="1.35"/>
<circle cx="745.1" cy="477.3" r="1.35"/>
<circle cx="747.6" cy="477.3" r="1.35"/>
<circle cx="749.8" cy="477.3" r="1.35"/>
<circle cx="753.4" cy="477.3" r="1.35"/>
<circle cx="754.7" cy="477.3" r="1.35"/>
<rect class="box" x="33.0" y="40.4" width="221.0" height="111.2" style="stroke-width:1.85"/>
<text class="t" x="34.0" y="25.5" textLength="33.1" lengthAdjust="spacingAndGlyphs" style="font-size:16px">Ocm</text>
<text class="a" transform="translate(29.2 52.9) rotate(-90)" text-anchor="middle" style="font-size:12.2px" textLength="31.0" lengthAdjust="spacingAndGlyphs">1e+05</text>
<path class="b" d="M33.0 43.0h-3" style="stroke-width:1.3"/>
<text class="a" transform="translate(29.2 93.6) rotate(-90)" text-anchor="middle" style="font-size:12.2px" textLength="31.0" lengthAdjust="spacingAndGlyphs">1e+03</text>
<path class="b" d="M33.0 85.3h-3" style="stroke-width:1.3"/>
<text class="a" transform="translate(29.2 135.2) rotate(-90)" text-anchor="middle" style="font-size:12.2px" textLength="31.0" lengthAdjust="spacingAndGlyphs">1e+01</text>
<path class="b" d="M33.0 125.3h-3" style="stroke-width:1.3"/>
<text class="a" x="75.5" y="163.6" text-anchor="middle" style="font-size:12.3px">DC</text>
<path class="b" d="M73.8 151.6v3.2" style="stroke-width:1.2"/>
<text class="a" x="145.5" y="163.6" text-anchor="middle" style="font-size:12.3px">IHC</text>
<path class="b" d="M144.4 151.6v3.2" style="stroke-width:1.2"/>
<text class="a" x="216.0" y="163.6" text-anchor="middle" style="font-size:12.3px">OHC</text>
<path class="b" d="M213.8 151.6v3.2" style="stroke-width:1.2"/>
<path class="b" d="M74.2 35.7V29.9H112.9M175.2 29.9H213.2V35.7"/>
<text class="p" x="119.2" y="33.2" textLength="52.2" lengthAdjust="spacingAndGlyphs" style="font-size:10.8px">p=1.4e-09</text>
<path class="b" d="M141.8 18.3V13.5H144.9M206.7 13.5H211.5V18.3"/>
<text class="p" x="150.1" y="15.8" textLength="53.1" lengthAdjust="spacingAndGlyphs" style="font-size:10.8px">p=5.4e-08</text>
<rect class="box" x="285.6" y="38.6" width="225.6" height="114.2" style="stroke-width:1.7"/>
<text class="t" x="286.5" y="25.5" textLength="19.2" lengthAdjust="spacingAndGlyphs" style="font-size:16px">Sri</text>
<text class="a" transform="translate(281.5 78.1) rotate(-90)" text-anchor="middle" style="font-size:12.2px">1000</text>
<path class="b" d="M285.6 71.8h-3" style="stroke-width:1.3"/>
<text class="a" transform="translate(281.5 125.0) rotate(-90)" text-anchor="middle" style="font-size:12.2px">10</text>
<path class="b" d="M285.6 121.7h-3" style="stroke-width:1.3"/>
<text class="a" x="329.3" y="164.8" text-anchor="middle" style="font-size:12.3px">DC</text>
<path class="b" d="M328.8 152.8v3.2" style="stroke-width:1.2"/>
<text class="a" x="400.5" y="164.8" text-anchor="middle" style="font-size:12.3px">IHC</text>
<path class="b" d="M399.9 152.8v3.2" style="stroke-width:1.2"/>
<text class="a" x="471.5" y="164.8" text-anchor="middle" style="font-size:12.3px">OHC</text>
<path class="b" d="M469.9 152.8v3.2" style="stroke-width:1.2"/>
<path class="b" d="M327.6 34.6V28.8H366.3M428.1 28.8H466.6V34.6"/>
<text class="p" x="371.5" y="30.9" textLength="52.5" lengthAdjust="spacingAndGlyphs" style="font-size:10.8px">p=5.5e-05</text>
<path class="b" d="M394.5 18.1V12.8H398.3M460.0 12.8H464.8V18.1"/>
<text class="p" x="403.4" y="14.8" textLength="52.9" lengthAdjust="spacingAndGlyphs" style="font-size:10.8px">p=6.3e-08</text>
<rect class="box" x="546.7" y="38.6" width="225.1" height="114.2" style="stroke-width:1.7"/>
<text class="t" x="547.0" y="23.0" textLength="61.4" lengthAdjust="spacingAndGlyphs" style="font-size:16px">Cacna1d</text>
<text class="a" transform="translate(542.5 79.5) rotate(-90)" text-anchor="middle" style="font-size:12.2px">1000</text>
<path class="b" d="M546.7 72.7h-3" style="stroke-width:1.3"/>
<text class="a" transform="translate(542.5 126.0) rotate(-90)" text-anchor="middle" style="font-size:12.2px">10</text>
<path class="b" d="M546.7 122.9h-3" style="stroke-width:1.3"/>
<text class="a" x="590.0" y="164.8" text-anchor="middle" style="font-size:12.3px">DC</text>
<path class="b" d="M588.3 152.8v3.2" style="stroke-width:1.2"/>
<text class="a" x="661.0" y="164.8" text-anchor="middle" style="font-size:12.3px">IHC</text>
<path class="b" d="M659.1 152.8v3.2" style="stroke-width:1.2"/>
<text class="a" x="732.8" y="164.8" text-anchor="middle" style="font-size:12.3px">OHC</text>
<path class="b" d="M730.0 152.8v3.2" style="stroke-width:1.2"/>
<path class="b" d="M588.2 31.3V25.7H627.0M690.2 25.7H727.2V31.3"/>
<text class="p" x="632.5" y="29.4" textLength="54.6" lengthAdjust="spacingAndGlyphs" style="font-size:10.8px">p=0.00037</text>
<path class="b" d="M655.6 15.4V9.7H659.3M721.0 9.7H725.6V15.4"/>
<text class="p" x="664.8" y="12.4" textLength="51.5" lengthAdjust="spacingAndGlyphs" style="font-size:10.8px">p=3.0e-06</text>
<rect class="box" x="35.0" y="206.8" width="219.0" height="107.8" style="stroke-width:1.7"/>
<text class="t" x="35.5" y="191.6" textLength="31.4" lengthAdjust="spacingAndGlyphs" style="font-size:16px">Ryr1</text>
<text class="a" transform="translate(29.8 230.8) rotate(-90)" text-anchor="middle" style="font-size:12.2px">1000</text>
<path class="b" d="M35.0 225.8h-3" style="stroke-width:1.3"/>
<text class="a" transform="translate(29.8 283.8) rotate(-90)" text-anchor="middle" style="font-size:12.2px">10</text>
<path class="b" d="M35.0 281.8h-3" style="stroke-width:1.3"/>
<text class="a" x="75.4" y="326.9" text-anchor="middle" style="font-size:12.3px">DC</text>
<path class="b" d="M76.0 314.6v3.2" style="stroke-width:1.2"/>
<text class="a" x="144.8" y="326.9" text-anchor="middle" style="font-size:12.3px">IHC</text>
<path class="b" d="M144.2 314.6v3.2" style="stroke-width:1.2"/>
<text class="a" x="215.0" y="326.9" text-anchor="middle" style="font-size:12.3px">OHC</text>
<path class="b" d="M212.0 314.6v3.2" style="stroke-width:1.2"/>
<path class="b" d="M75.7 203.4V198.8H122.7M176.2 198.8H214.3V203.4"/>
<text class="p" x="129.3" y="199.4" textLength="41.8" lengthAdjust="spacingAndGlyphs" style="font-size:10.8px">p=0.017</text>
<path class="b" d="M142.8 187.5V183.4H145.3M207.1 183.4H211.6V187.5"/>
<text class="p" x="150.5" y="185.4" textLength="54.5" lengthAdjust="spacingAndGlyphs" style="font-size:10.8px">p=0.00045</text>
<rect class="box" x="286.8" y="206.8" width="224.4" height="111.3" style="stroke-width:1.7"/>
<text class="t" x="287.7" y="191.3" textLength="32.7" lengthAdjust="spacingAndGlyphs" style="font-size:16px">Ryr2</text>
<text class="a" transform="translate(281.5 224.4) rotate(-90)" text-anchor="middle" style="font-size:12.2px">1000</text>
<path class="b" d="M286.8 218.8h-3" style="stroke-width:1.3"/>
<text class="a" transform="translate(281.5 285.0) rotate(-90)" text-anchor="middle" style="font-size:12.2px">10</text>
<path class="b" d="M286.8 281.3h-3" style="stroke-width:1.3"/>
<text class="a" x="329.3" y="330.6" text-anchor="middle" style="font-size:12.3px">DC</text>
<path class="b" d="M328.8 318.1v3.2" style="stroke-width:1.2"/>
<text class="a" x="400.9" y="330.6" text-anchor="middle" style="font-size:12.3px">IHC</text>
<path class="b" d="M399.9 318.1v3.2" style="stroke-width:1.2"/>
<text class="a" x="472.3" y="330.6" text-anchor="middle" style="font-size:12.3px">OHC</text>
<path class="b" d="M469.9 318.1v3.2" style="stroke-width:1.2"/>
<path class="b" d="M328.2 202.5V197.4H371.1M429.6 197.4H467.2V202.5"/>
<text class="p" x="377.7" y="199.4" textLength="48.4" lengthAdjust="spacingAndGlyphs" style="font-size:10.8px">p=0.0026</text>
<path class="b" d="M395.6 186.9V181.7H399.3M461.1 181.7H465.6V186.9"/>
<text class="p" x="406.1" y="184.8" textLength="48.4" lengthAdjust="spacingAndGlyphs" style="font-size:10.8px">p=0.0035</text>
<rect class="box" x="545.9" y="206.8" width="226.1" height="111.3" style="stroke-width:1.7"/>
<text class="t" x="547.0" y="190.8" textLength="32.6" lengthAdjust="spacingAndGlyphs" style="font-size:16px">Ryr3</text>
<text class="a" transform="translate(541.0 234.4) rotate(-90)" text-anchor="middle" style="font-size:12.2px">1000</text>
<path class="b" d="M545.9 227.5h-3" style="stroke-width:1.3"/>
<text class="a" transform="translate(541.0 287.9) rotate(-90)" text-anchor="middle" style="font-size:12.2px">10</text>
<path class="b" d="M545.9 285.0h-3" style="stroke-width:1.3"/>
<text class="a" x="590.0" y="330.6" text-anchor="middle" style="font-size:12.3px">DC</text>
<path class="b" d="M588.3 318.1v3.2" style="stroke-width:1.2"/>
<text class="a" x="661.0" y="330.6" text-anchor="middle" style="font-size:12.3px">IHC</text>
<path class="b" d="M659.1 318.1v3.2" style="stroke-width:1.2"/>
<text class="a" x="732.6" y="330.6" text-anchor="middle" style="font-size:12.3px">OHC</text>
<path class="b" d="M729.9 318.1v3.2" style="stroke-width:1.2"/>
<path class="b" d="M588.2 201.3V195.3H641.8M675.1 195.3H727.2V201.3"/>
<text class="p" x="653.1" y="199.4" textLength="13.0" lengthAdjust="spacingAndGlyphs" style="font-size:10.8px">NS</text>
<path class="b" d="M655.6 185.4V179.3H659.3M721.1 179.3H725.6V185.4"/>
<text class="p" x="664.8" y="184.4" textLength="51.5" lengthAdjust="spacingAndGlyphs" style="font-size:10.8px">p=5.4e-06</text>
<rect class="box" x="33.5" y="372.4" width="220.5" height="108.6" style="stroke-width:1.15"/>
<text class="t" x="33.7" y="358.7" textLength="49.4" lengthAdjust="spacingAndGlyphs" style="font-size:16px">Atp2a1</text>
<text class="a" transform="translate(29.8 409.4) rotate(-90)" text-anchor="middle" style="font-size:12.2px">100</text>
<path class="b" d="M33.5 403.8h-3" style="stroke-width:1.3"/>
<text class="a" transform="translate(29.8 443.8) rotate(-90)" text-anchor="middle" style="font-size:12.2px">10</text>
<path class="b" d="M33.5 440.8h-3" style="stroke-width:1.3"/>
<text class="a" transform="translate(29.8 479.4) rotate(-90)" text-anchor="middle" style="font-size:12.2px">1</text>
<path class="b" d="M33.5 476.8h-3" style="stroke-width:1.3"/>
<text class="a" x="75.4" y="494.0" text-anchor="middle" style="font-size:12.3px">DC</text>
<path class="b" d="M76.0 481.0v3.2" style="stroke-width:1.2"/>
<text class="a" x="144.8" y="494.0" text-anchor="middle" style="font-size:12.3px">IHC</text>
<path class="b" d="M144.2 481.0v3.2" style="stroke-width:1.2"/>
<text class="a" x="215.0" y="494.0" text-anchor="middle" style="font-size:12.3px">OHC</text>
<path class="b" d="M212.0 481.0v3.2" style="stroke-width:1.2"/>
<path class="b" d="M74.3 367.3V362.4H127.4M161.4 362.4H213.3V367.3"/>
<text class="p" x="139.5" y="366.5" textLength="13.0" lengthAdjust="spacingAndGlyphs" style="font-size:10.8px">NS</text>
<path class="b" d="M141.2 351.4V346.3H168.0M191.6 346.3H211.6V351.4"/>
<text class="p" x="173.1" y="349.4" textLength="13.4" lengthAdjust="spacingAndGlyphs" style="font-size:10.8px">NS</text>
<rect class="box" x="287.0" y="371.5" width="224.3" height="110.9" style="stroke-width:1.15"/>
<text class="t" x="287.4" y="358.8" textLength="49.5" lengthAdjust="spacingAndGlyphs" style="font-size:16px">Atp2a2</text>
<text class="a" transform="translate(281.5 399.1) rotate(-90)" text-anchor="middle" style="font-size:12.2px">1000</text>
<path class="b" d="M287.0 392.5h-3" style="stroke-width:1.3"/>
<text class="a" transform="translate(281.5 451.8) rotate(-90)" text-anchor="middle" style="font-size:12.2px">10</text>
<path class="b" d="M287.0 450.0h-3" style="stroke-width:1.3"/>
<text class="a" x="329.3" y="494.0" text-anchor="middle" style="font-size:12.3px">DC</text>
<path class="b" d="M328.8 482.4v3.2" style="stroke-width:1.2"/>
<text class="a" x="400.9" y="494.0" text-anchor="middle" style="font-size:12.3px">IHC</text>
<path class="b" d="M399.9 482.4v3.2" style="stroke-width:1.2"/>
<text class="a" x="472.3" y="494.0" text-anchor="middle" style="font-size:12.3px">OHC</text>
<path class="b" d="M469.9 482.4v3.2" style="stroke-width:1.2"/>
<path class="b" d="M329.3 367.3V362.4H381.4M415.1 362.4H468.3V367.3"/>
<text class="p" x="393.1" y="366.5" textLength="13.4" lengthAdjust="spacingAndGlyphs" style="font-size:10.8px">NS</text>
<path class="b" d="M396.2 351.4V346.3H421.9M445.2 346.3H465.6V351.4"/>
<text class="p" x="426.7" y="349.4" textLength="13.4" lengthAdjust="spacingAndGlyphs" style="font-size:10.8px">NS</text>
<rect class="box" x="547.6" y="370.7" width="224.7" height="111.3" style="stroke-width:1.15"/>
<text class="t" x="548.0" y="358.1" textLength="49.8" lengthAdjust="spacingAndGlyphs" style="font-size:16px">Atp2a3</text>
<text class="a" transform="translate(543.0 415.6) rotate(-90)" text-anchor="middle" style="font-size:12.2px">1000</text>
<path class="b" d="M547.6 409.5h-3" style="stroke-width:1.3"/>
<text class="a" transform="translate(543.0 456.5) rotate(-90)" text-anchor="middle" style="font-size:12.2px">10</text>
<path class="b" d="M547.6 454.5h-3" style="stroke-width:1.3"/>
<text class="a" x="590.0" y="494.2" text-anchor="middle" style="font-size:12.3px">DC</text>
<path class="b" d="M588.3 482.0v3.2" style="stroke-width:1.2"/>
<text class="a" x="661.0" y="494.2" text-anchor="middle" style="font-size:12.3px">IHC</text>
<path class="b" d="M659.1 482.0v3.2" style="stroke-width:1.2"/>
<text class="a" x="731.7" y="494.2" text-anchor="middle" style="font-size:12.3px">OHC</text>
<path class="b" d="M729.9 482.0v3.2" style="stroke-width:1.2"/>
<path class="b" d="M588.2 367.9V362.4H641.4M675.1 362.4H727.2V367.9"/>
<text class="p" x="654.1" y="364.4" textLength="13.4" lengthAdjust="spacingAndGlyphs" style="font-size:10.8px">NS</text>
<path class="b" d="M655.6 352.1V346.3H658.9M721.1 346.3H725.6V352.1"/>
<text class="p" x="662.4" y="350.8" textLength="55.2" lengthAdjust="spacingAndGlyphs" style="font-size:10.8px">p=1.5e-0.9</text>
<path d="M547 371.2H772.9" stroke="#1c1c20" stroke-width="2" fill="none"/>
</svg>
</body></html>
